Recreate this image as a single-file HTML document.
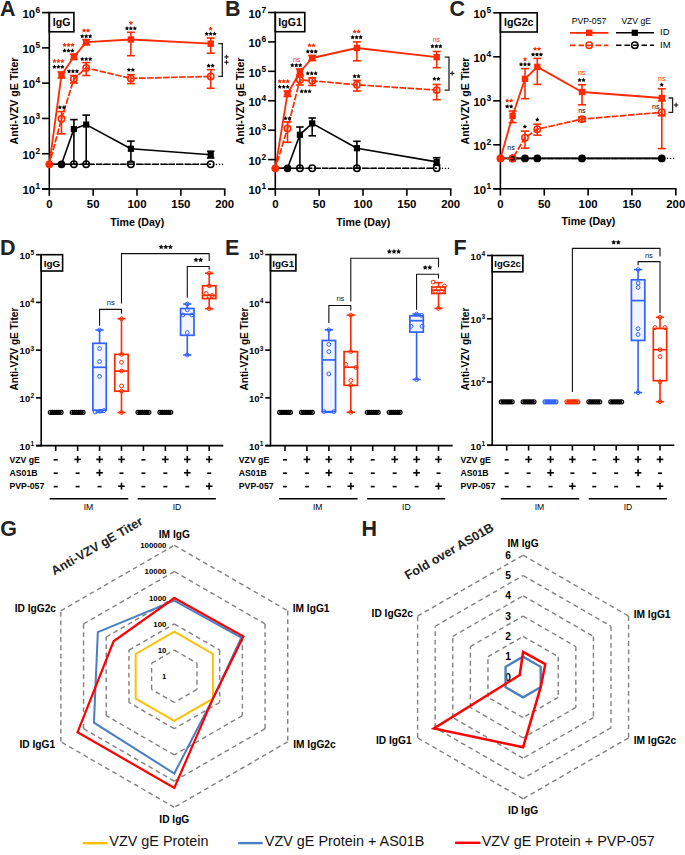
<!DOCTYPE html>
<html><head><meta charset="utf-8"><style>
html,body{margin:0;padding:0;background:#fff;width:685px;height:855px;overflow:hidden}
svg{display:block}
text{font-family:"Liberation Sans",sans-serif}
</style></head><body>
<svg width="685" height="855" viewBox="0 0 685 855">
<rect width="685" height="855" fill="#fff"/>
<text x="0" y="15.9" font-size="21.5" font-weight="bold" text-anchor="start" fill="#222" >A</text>
<line x1="49.3" y1="11.85" x2="49.3" y2="189.75" stroke="#000" stroke-width="1.6" />
<line x1="42.1" y1="12.6" x2="49.3" y2="12.6" stroke="#000" stroke-width="1.6" />
<text x="35.1" y="17.9" font-size="11.4" font-weight="bold" text-anchor="end" fill="#000" >10</text>
<text x="35.4" y="12.8" font-size="8.4" font-weight="bold" text-anchor="start" fill="#000" >6</text>
<line x1="42.1" y1="47.88" x2="49.3" y2="47.88" stroke="#000" stroke-width="1.6" />
<text x="35.1" y="53.18" font-size="11.4" font-weight="bold" text-anchor="end" fill="#000" >10</text>
<text x="35.4" y="48.08" font-size="8.4" font-weight="bold" text-anchor="start" fill="#000" >5</text>
<line x1="42.1" y1="83.16" x2="49.3" y2="83.16" stroke="#000" stroke-width="1.6" />
<text x="35.1" y="88.46" font-size="11.4" font-weight="bold" text-anchor="end" fill="#000" >10</text>
<text x="35.4" y="83.36" font-size="8.4" font-weight="bold" text-anchor="start" fill="#000" >4</text>
<line x1="42.1" y1="118.44" x2="49.3" y2="118.44" stroke="#000" stroke-width="1.6" />
<text x="35.1" y="123.74" font-size="11.4" font-weight="bold" text-anchor="end" fill="#000" >10</text>
<text x="35.4" y="118.64" font-size="8.4" font-weight="bold" text-anchor="start" fill="#000" >3</text>
<line x1="42.1" y1="153.72" x2="49.3" y2="153.72" stroke="#000" stroke-width="1.6" />
<text x="35.1" y="159.02" font-size="11.4" font-weight="bold" text-anchor="end" fill="#000" >10</text>
<text x="35.4" y="153.92" font-size="8.4" font-weight="bold" text-anchor="start" fill="#000" >2</text>
<line x1="42.1" y1="189" x2="49.3" y2="189" stroke="#000" stroke-width="1.6" />
<text x="35.1" y="194.3" font-size="11.4" font-weight="bold" text-anchor="end" fill="#000" >10</text>
<text x="35.4" y="189.2" font-size="8.4" font-weight="bold" text-anchor="start" fill="#000" >1</text>
<line x1="42.1" y1="189" x2="225.5" y2="189" stroke="#000" stroke-width="1.6" />
<line x1="49.3" y1="189" x2="49.3" y2="195.8" stroke="#000" stroke-width="1.6" />
<text x="49.3" y="208.2" font-size="11.4" font-weight="bold" text-anchor="middle" fill="#000" >0</text>
<line x1="93.15" y1="189" x2="93.15" y2="195.8" stroke="#000" stroke-width="1.6" />
<text x="93.15" y="208.2" font-size="11.4" font-weight="bold" text-anchor="middle" fill="#000" >50</text>
<line x1="137" y1="189" x2="137" y2="195.8" stroke="#000" stroke-width="1.6" />
<text x="137" y="208.2" font-size="11.4" font-weight="bold" text-anchor="middle" fill="#000" >100</text>
<line x1="180.85" y1="189" x2="180.85" y2="195.8" stroke="#000" stroke-width="1.6" />
<text x="180.85" y="208.2" font-size="11.4" font-weight="bold" text-anchor="middle" fill="#000" >150</text>
<line x1="224.7" y1="189" x2="224.7" y2="195.8" stroke="#000" stroke-width="1.6" />
<text x="224.7" y="208.2" font-size="11.4" font-weight="bold" text-anchor="middle" fill="#000" >200</text>
<text x="137.3" y="225.5" font-size="10.6" font-weight="bold" text-anchor="middle" fill="#000" >Time (Day)</text>
<rect x="49.3" y="12.6" width="24.6" height="19.2" stroke="#000" stroke-width="1.6" fill="none"/>
<text x="61.6" y="25.8" font-size="10.6" font-weight="bold" text-anchor="middle" fill="#000" >IgG</text>
<text transform="translate(17.6,101) rotate(-90)" font-size="10.6" font-weight="bold" text-anchor="middle" fill="#000">Anti-VZV gE Titer</text>
<polyline points="49.3,164.3 61.5,164.3 73.9,164.3 86.2,164.3 130.9,164.3 210.7,164.3" stroke="#000" stroke-width="1.5" fill="none" stroke-dasharray="6.5,1.55" stroke-dashoffset="1.6" stroke-linejoin="round"/>
<line x1="51.05" y1="164.3" x2="223.8" y2="164.3" stroke="#000" stroke-width="1.3" stroke-dasharray="1.3,1.75"/>
<polyline points="49.3,164.3 61.5,164.3 73.9,129.1 86.2,124.6 130.9,148.8 210.7,154.8" stroke="#000" stroke-width="1.6" fill="none"  stroke-linejoin="round"/>
<line x1="73.9" y1="119.6" x2="73.9" y2="164.3" stroke="#000" stroke-width="1.6" />
<line x1="70.15" y1="119.6" x2="77.65" y2="119.6" stroke="#000" stroke-width="1.6" />
<line x1="70.15" y1="164.3" x2="77.65" y2="164.3" stroke="#000" stroke-width="1.6" />
<line x1="86.2" y1="115.1" x2="86.2" y2="164.3" stroke="#000" stroke-width="1.6" />
<line x1="82.45" y1="115.1" x2="89.95" y2="115.1" stroke="#000" stroke-width="1.6" />
<line x1="82.45" y1="164.3" x2="89.95" y2="164.3" stroke="#000" stroke-width="1.6" />
<line x1="130.9" y1="141.1" x2="130.9" y2="162" stroke="#000" stroke-width="1.6" />
<line x1="127.15" y1="141.1" x2="134.65" y2="141.1" stroke="#000" stroke-width="1.6" />
<line x1="127.15" y1="162" x2="134.65" y2="162" stroke="#000" stroke-width="1.6" />
<line x1="210.7" y1="151.2" x2="210.7" y2="158" stroke="#000" stroke-width="1.6" />
<line x1="206.95" y1="151.2" x2="214.45" y2="151.2" stroke="#000" stroke-width="1.6" />
<line x1="206.95" y1="158" x2="214.45" y2="158" stroke="#000" stroke-width="1.6" />
<circle cx="73.9" cy="164.3" r="3.2" stroke="#000" stroke-width="1.5" fill="none"/>
<circle cx="86.2" cy="164.3" r="3.2" stroke="#000" stroke-width="1.5" fill="none"/>
<circle cx="130.9" cy="164.3" r="3.2" stroke="#000" stroke-width="1.5" fill="none"/>
<circle cx="210.7" cy="164.3" r="3.2" stroke="#000" stroke-width="1.5" fill="none"/>
<circle cx="61.5" cy="164.3" r="3.9" stroke="#000" stroke-width="0" fill="#000"/>
<rect x="70.8" y="126" width="6.2" height="6.2" fill="#000"/>
<rect x="83.1" y="121.5" width="6.2" height="6.2" fill="#000"/>
<rect x="127.8" y="145.7" width="6.2" height="6.2" fill="#000"/>
<rect x="207.6" y="151.7" width="6.2" height="6.2" fill="#000"/>
<polyline points="49.3,164.3 61.5,118.8 73.9,79 86.2,67.9 130.9,78.4 210.7,76.4" stroke="#ff2a00" stroke-width="1.7" fill="none" stroke-dasharray="6.5,1.55" stroke-dashoffset="1.6" stroke-linejoin="round"/>
<line x1="61.5" y1="111.6" x2="61.5" y2="133.8" stroke="#ff2a00" stroke-width="1.6" />
<line x1="57.5" y1="111.6" x2="65.5" y2="111.6" stroke="#ff2a00" stroke-width="1.6" />
<line x1="57.5" y1="133.8" x2="65.5" y2="133.8" stroke="#ff2a00" stroke-width="1.6" />
<line x1="73.9" y1="75.5" x2="73.9" y2="83" stroke="#ff2a00" stroke-width="1.6" />
<line x1="69.9" y1="75.5" x2="77.9" y2="75.5" stroke="#ff2a00" stroke-width="1.6" />
<line x1="69.9" y1="83" x2="77.9" y2="83" stroke="#ff2a00" stroke-width="1.6" />
<line x1="86.2" y1="62.6" x2="86.2" y2="75.5" stroke="#ff2a00" stroke-width="1.6" />
<line x1="82.2" y1="62.6" x2="90.2" y2="62.6" stroke="#ff2a00" stroke-width="1.6" />
<line x1="82.2" y1="75.5" x2="90.2" y2="75.5" stroke="#ff2a00" stroke-width="1.6" />
<line x1="130.9" y1="74.6" x2="130.9" y2="83.6" stroke="#ff2a00" stroke-width="1.6" />
<line x1="126.9" y1="74.6" x2="134.9" y2="74.6" stroke="#ff2a00" stroke-width="1.6" />
<line x1="126.9" y1="83.6" x2="134.9" y2="83.6" stroke="#ff2a00" stroke-width="1.6" />
<line x1="210.7" y1="69.7" x2="210.7" y2="88.3" stroke="#ff2a00" stroke-width="1.6" />
<line x1="206.7" y1="69.7" x2="214.7" y2="69.7" stroke="#ff2a00" stroke-width="1.6" />
<line x1="206.7" y1="88.3" x2="214.7" y2="88.3" stroke="#ff2a00" stroke-width="1.6" />
<circle cx="61.5" cy="118.8" r="3.2" stroke="#ff2a00" stroke-width="1.5" fill="none"/>
<circle cx="73.9" cy="79" r="3.2" stroke="#ff2a00" stroke-width="1.5" fill="none"/>
<circle cx="86.2" cy="67.9" r="3.2" stroke="#ff2a00" stroke-width="1.5" fill="none"/>
<circle cx="130.9" cy="78.4" r="3.2" stroke="#ff2a00" stroke-width="1.5" fill="none"/>
<circle cx="210.7" cy="76.4" r="3.2" stroke="#ff2a00" stroke-width="1.5" fill="none"/>
<polyline points="49.3,164.3 61.5,74.9 73.9,56.8 86.2,42.2 130.9,39.5 210.7,43.7" stroke="#ff2a00" stroke-width="1.8" fill="none"  stroke-linejoin="round"/>
<line x1="61.5" y1="72" x2="61.5" y2="78" stroke="#ff2a00" stroke-width="1.6" />
<line x1="57.5" y1="72" x2="65.5" y2="72" stroke="#ff2a00" stroke-width="1.6" />
<line x1="57.5" y1="78" x2="65.5" y2="78" stroke="#ff2a00" stroke-width="1.6" />
<line x1="73.9" y1="54.2" x2="73.9" y2="59.5" stroke="#ff2a00" stroke-width="1.6" />
<line x1="69.9" y1="54.2" x2="77.9" y2="54.2" stroke="#ff2a00" stroke-width="1.6" />
<line x1="69.9" y1="59.5" x2="77.9" y2="59.5" stroke="#ff2a00" stroke-width="1.6" />
<line x1="86.2" y1="39.6" x2="86.2" y2="44.8" stroke="#ff2a00" stroke-width="1.6" />
<line x1="82.2" y1="39.6" x2="90.2" y2="39.6" stroke="#ff2a00" stroke-width="1.6" />
<line x1="82.2" y1="44.8" x2="90.2" y2="44.8" stroke="#ff2a00" stroke-width="1.6" />
<line x1="130.9" y1="32.3" x2="130.9" y2="55.7" stroke="#ff2a00" stroke-width="1.6" />
<line x1="126.9" y1="32.3" x2="134.9" y2="32.3" stroke="#ff2a00" stroke-width="1.6" />
<line x1="126.9" y1="55.7" x2="134.9" y2="55.7" stroke="#ff2a00" stroke-width="1.6" />
<line x1="210.7" y1="38" x2="210.7" y2="53.2" stroke="#ff2a00" stroke-width="1.6" />
<line x1="206.7" y1="38" x2="214.7" y2="38" stroke="#ff2a00" stroke-width="1.6" />
<line x1="206.7" y1="53.2" x2="214.7" y2="53.2" stroke="#ff2a00" stroke-width="1.6" />
<rect x="58.3" y="71.7" width="6.4" height="6.4" fill="#ff2a00"/>
<rect x="70.7" y="53.6" width="6.4" height="6.4" fill="#ff2a00"/>
<rect x="83" y="39" width="6.4" height="6.4" fill="#ff2a00"/>
<rect x="127.7" y="36.3" width="6.4" height="6.4" fill="#ff2a00"/>
<rect x="207.5" y="40.5" width="6.4" height="6.4" fill="#ff2a00"/>
<circle cx="49.3" cy="164.3" r="3.9" stroke="#ff2a00" stroke-width="0" fill="#ff2a00"/>
<polygon points="54.45,58.78 55.14,60.18 56.68,60.41 55.57,61.5 55.83,63.04 54.45,62.31 53.07,63.04 53.33,61.5 52.22,60.41 53.76,60.18" stroke="none" stroke-width="0" fill="#ff2a00" />
<polygon points="58.4,58.78 59.09,60.18 60.63,60.41 59.52,61.5 59.78,63.04 58.4,62.31 57.02,63.04 57.28,61.5 56.17,60.41 57.71,60.18" stroke="none" stroke-width="0" fill="#ff2a00" />
<polygon points="62.35,58.78 63.04,60.18 64.58,60.41 63.47,61.5 63.73,63.04 62.35,62.31 60.97,63.04 61.23,61.5 60.12,60.41 61.66,60.18" stroke="none" stroke-width="0" fill="#ff2a00" />
<polygon points="54.45,64.59 55.14,65.98 56.68,66.21 55.57,67.3 55.83,68.84 54.45,68.11 53.07,68.84 53.33,67.3 52.22,66.21 53.76,65.98" stroke="none" stroke-width="0" fill="#000" />
<polygon points="58.4,64.59 59.09,65.98 60.63,66.21 59.52,67.3 59.78,68.84 58.4,68.11 57.02,68.84 57.28,67.3 56.17,66.21 57.71,65.98" stroke="none" stroke-width="0" fill="#000" />
<polygon points="62.35,64.59 63.04,65.98 64.58,66.21 63.47,67.3 63.73,68.84 62.35,68.11 60.97,68.84 61.23,67.3 60.12,66.21 61.66,65.98" stroke="none" stroke-width="0" fill="#000" />
<polygon points="64.55,42.68 65.24,44.08 66.78,44.31 65.67,45.4 65.93,46.94 64.55,46.21 63.17,46.94 63.43,45.4 62.32,44.31 63.86,44.08" stroke="none" stroke-width="0" fill="#ff2a00" />
<polygon points="68.5,42.68 69.19,44.08 70.73,44.31 69.62,45.4 69.88,46.94 68.5,46.21 67.12,46.94 67.38,45.4 66.27,44.31 67.81,44.08" stroke="none" stroke-width="0" fill="#ff2a00" />
<polygon points="72.45,42.68 73.14,44.08 74.68,44.31 73.57,45.4 73.83,46.94 72.45,46.21 71.07,46.94 71.33,45.4 70.22,44.31 71.76,44.08" stroke="none" stroke-width="0" fill="#ff2a00" />
<polygon points="64.55,48.28 65.24,49.68 66.78,49.91 65.67,51 65.93,52.54 64.55,51.81 63.17,52.54 63.43,51 62.32,49.91 63.86,49.68" stroke="none" stroke-width="0" fill="#000" />
<polygon points="68.5,48.28 69.19,49.68 70.73,49.91 69.62,51 69.88,52.54 68.5,51.81 67.12,52.54 67.38,51 66.27,49.91 67.81,49.68" stroke="none" stroke-width="0" fill="#000" />
<polygon points="72.45,48.28 73.14,49.68 74.68,49.91 73.57,51 73.83,52.54 72.45,51.81 71.07,52.54 71.33,51 70.22,49.91 71.76,49.68" stroke="none" stroke-width="0" fill="#000" />
<polygon points="84.03,28.18 84.72,29.58 86.26,29.81 85.14,30.9 85.41,32.44 84.03,31.71 82.64,32.44 82.91,30.9 81.79,29.81 83.33,29.58" stroke="none" stroke-width="0" fill="#ff2a00" />
<polygon points="87.98,28.18 88.67,29.58 90.21,29.81 89.09,30.9 89.36,32.44 87.98,31.71 86.59,32.44 86.86,30.9 85.74,29.81 87.28,29.58" stroke="none" stroke-width="0" fill="#ff2a00" />
<polygon points="82.25,33.88 82.94,35.28 84.48,35.51 83.37,36.6 83.63,38.14 82.25,37.41 80.87,38.14 81.13,36.6 80.02,35.51 81.56,35.28" stroke="none" stroke-width="0" fill="#000" />
<polygon points="86.2,33.88 86.89,35.28 88.43,35.51 87.32,36.6 87.58,38.14 86.2,37.41 84.82,38.14 85.08,36.6 83.97,35.51 85.51,35.28" stroke="none" stroke-width="0" fill="#000" />
<polygon points="90.15,33.88 90.84,35.28 92.38,35.51 91.27,36.6 91.53,38.14 90.15,37.41 88.77,38.14 89.03,36.6 87.92,35.51 89.46,35.28" stroke="none" stroke-width="0" fill="#000" />
<polygon points="82.25,56.78 82.94,58.18 84.48,58.41 83.37,59.5 83.63,61.04 82.25,60.31 80.87,61.04 81.13,59.5 80.02,58.41 81.56,58.18" stroke="none" stroke-width="0" fill="#000" />
<polygon points="86.2,56.78 86.89,58.18 88.43,58.41 87.32,59.5 87.58,61.04 86.2,60.31 84.82,61.04 85.08,59.5 83.97,58.41 85.51,58.18" stroke="none" stroke-width="0" fill="#000" />
<polygon points="90.15,56.78 90.84,58.18 92.38,58.41 91.27,59.5 91.53,61.04 90.15,60.31 88.77,61.04 89.03,59.5 87.92,58.41 89.46,58.18" stroke="none" stroke-width="0" fill="#000" />
<polygon points="69.05,68.89 69.74,70.28 71.28,70.51 70.17,71.6 70.43,73.14 69.05,72.41 67.67,73.14 67.93,71.6 66.82,70.51 68.36,70.28" stroke="none" stroke-width="0" fill="#000" />
<polygon points="73,68.89 73.69,70.28 75.23,70.51 74.12,71.6 74.38,73.14 73,72.41 71.62,73.14 71.88,71.6 70.77,70.51 72.31,70.28" stroke="none" stroke-width="0" fill="#000" />
<polygon points="76.95,68.89 77.64,70.28 79.18,70.51 78.07,71.6 78.33,73.14 76.95,72.41 75.57,73.14 75.83,71.6 74.72,70.51 76.26,70.28" stroke="none" stroke-width="0" fill="#000" />
<polygon points="59.92,105.09 60.62,106.48 62.16,106.71 61.04,107.8 61.31,109.34 59.92,108.61 58.54,109.34 58.81,107.8 57.69,106.71 59.23,106.48" stroke="none" stroke-width="0" fill="#000" />
<polygon points="63.88,105.09 64.57,106.48 66.11,106.71 64.99,107.8 65.26,109.34 63.88,108.61 62.49,109.34 62.76,107.8 61.64,106.71 63.18,106.48" stroke="none" stroke-width="0" fill="#000" />
<polygon points="130.9,20.68 131.59,22.08 133.13,22.31 132.02,23.4 132.28,24.94 130.9,24.21 129.52,24.94 129.78,23.4 128.67,22.31 130.21,22.08" stroke="none" stroke-width="0" fill="#ff2a00" />
<polygon points="126.95,26.08 127.64,27.48 129.18,27.71 128.07,28.8 128.33,30.34 126.95,29.61 125.57,30.34 125.83,28.8 124.72,27.71 126.26,27.48" stroke="none" stroke-width="0" fill="#000" />
<polygon points="130.9,26.08 131.59,27.48 133.13,27.71 132.02,28.8 132.28,30.34 130.9,29.61 129.52,30.34 129.78,28.8 128.67,27.71 130.21,27.48" stroke="none" stroke-width="0" fill="#000" />
<polygon points="134.85,26.08 135.54,27.48 137.08,27.71 135.97,28.8 136.23,30.34 134.85,29.61 133.47,30.34 133.73,28.8 132.62,27.71 134.16,27.48" stroke="none" stroke-width="0" fill="#000" />
<polygon points="210.6,26.38 211.29,27.78 212.83,28.01 211.72,29.1 211.98,30.64 210.6,29.91 209.22,30.64 209.48,29.1 208.37,28.01 209.91,27.78" stroke="none" stroke-width="0" fill="#ff2a00" />
<polygon points="206.65,31.59 207.34,32.98 208.88,33.21 207.77,34.3 208.03,35.84 206.65,35.11 205.27,35.84 205.53,34.3 204.42,33.21 205.96,32.98" stroke="none" stroke-width="0" fill="#000" />
<polygon points="210.6,31.59 211.29,32.98 212.83,33.21 211.72,34.3 211.98,35.84 210.6,35.11 209.22,35.84 209.48,34.3 208.37,33.21 209.91,32.98" stroke="none" stroke-width="0" fill="#000" />
<polygon points="214.55,31.59 215.24,32.98 216.78,33.21 215.67,34.3 215.93,35.84 214.55,35.11 213.17,35.84 213.43,34.3 212.32,33.21 213.86,32.98" stroke="none" stroke-width="0" fill="#000" />
<polygon points="128.93,67.59 129.62,68.98 131.16,69.21 130.04,70.3 130.31,71.84 128.93,71.11 127.54,71.84 127.81,70.3 126.69,69.21 128.23,68.98" stroke="none" stroke-width="0" fill="#000" />
<polygon points="132.88,67.59 133.57,68.98 135.11,69.21 133.99,70.3 134.26,71.84 132.88,71.11 131.49,71.84 131.76,70.3 130.64,69.21 132.18,68.98" stroke="none" stroke-width="0" fill="#000" />
<polygon points="208.62,63.38 209.32,64.78 210.86,65.01 209.74,66.1 210.01,67.64 208.62,66.91 207.24,67.64 207.51,66.1 206.39,65.01 207.93,64.78" stroke="none" stroke-width="0" fill="#000" />
<polygon points="212.57,63.38 213.27,64.78 214.81,65.01 213.69,66.1 213.96,67.64 212.57,66.91 211.19,67.64 211.46,66.1 210.34,65.01 211.88,64.78" stroke="none" stroke-width="0" fill="#000" />
<polyline points="218.2,43.7 222.3,43.7 222.3,76.4 218.2,76.4" stroke="#222" stroke-width="1.3" fill="none" />
<line x1="224.3" y1="56.9" x2="228.7" y2="56.9" stroke="#222" stroke-width="1.2" />
<line x1="226.5" y1="54.7" x2="226.5" y2="59.1" stroke="#222" stroke-width="1.2" />
<line x1="224.3" y1="62.3" x2="228.7" y2="62.3" stroke="#222" stroke-width="1.2" />
<line x1="226.5" y1="60.1" x2="226.5" y2="64.5" stroke="#222" stroke-width="1.2" />
<text x="224.9" y="15.9" font-size="21.5" font-weight="bold" text-anchor="start" fill="#222" >B</text>
<line x1="275.3" y1="11.75" x2="275.3" y2="189.75" stroke="#000" stroke-width="1.6" />
<line x1="268.1" y1="12.5" x2="275.3" y2="12.5" stroke="#000" stroke-width="1.6" />
<text x="261.1" y="17.8" font-size="11.4" font-weight="bold" text-anchor="end" fill="#000" >10</text>
<text x="261.4" y="12.7" font-size="8.4" font-weight="bold" text-anchor="start" fill="#000" >7</text>
<line x1="268.1" y1="41.92" x2="275.3" y2="41.92" stroke="#000" stroke-width="1.6" />
<text x="261.1" y="47.22" font-size="11.4" font-weight="bold" text-anchor="end" fill="#000" >10</text>
<text x="261.4" y="42.12" font-size="8.4" font-weight="bold" text-anchor="start" fill="#000" >6</text>
<line x1="268.1" y1="71.33" x2="275.3" y2="71.33" stroke="#000" stroke-width="1.6" />
<text x="261.1" y="76.63" font-size="11.4" font-weight="bold" text-anchor="end" fill="#000" >10</text>
<text x="261.4" y="71.53" font-size="8.4" font-weight="bold" text-anchor="start" fill="#000" >5</text>
<line x1="268.1" y1="100.75" x2="275.3" y2="100.75" stroke="#000" stroke-width="1.6" />
<text x="261.1" y="106.05" font-size="11.4" font-weight="bold" text-anchor="end" fill="#000" >10</text>
<text x="261.4" y="100.95" font-size="8.4" font-weight="bold" text-anchor="start" fill="#000" >4</text>
<line x1="268.1" y1="130.17" x2="275.3" y2="130.17" stroke="#000" stroke-width="1.6" />
<text x="261.1" y="135.47" font-size="11.4" font-weight="bold" text-anchor="end" fill="#000" >10</text>
<text x="261.4" y="130.37" font-size="8.4" font-weight="bold" text-anchor="start" fill="#000" >3</text>
<line x1="268.1" y1="159.58" x2="275.3" y2="159.58" stroke="#000" stroke-width="1.6" />
<text x="261.1" y="164.88" font-size="11.4" font-weight="bold" text-anchor="end" fill="#000" >10</text>
<text x="261.4" y="159.78" font-size="8.4" font-weight="bold" text-anchor="start" fill="#000" >2</text>
<line x1="268.1" y1="189" x2="275.3" y2="189" stroke="#000" stroke-width="1.6" />
<text x="261.1" y="194.3" font-size="11.4" font-weight="bold" text-anchor="end" fill="#000" >10</text>
<text x="261.4" y="189.2" font-size="8.4" font-weight="bold" text-anchor="start" fill="#000" >1</text>
<line x1="268.1" y1="189" x2="451.5" y2="189" stroke="#000" stroke-width="1.6" />
<line x1="275.3" y1="189" x2="275.3" y2="195.8" stroke="#000" stroke-width="1.6" />
<text x="275.3" y="208.2" font-size="11.4" font-weight="bold" text-anchor="middle" fill="#000" >0</text>
<line x1="319.15" y1="189" x2="319.15" y2="195.8" stroke="#000" stroke-width="1.6" />
<text x="319.15" y="208.2" font-size="11.4" font-weight="bold" text-anchor="middle" fill="#000" >50</text>
<line x1="363" y1="189" x2="363" y2="195.8" stroke="#000" stroke-width="1.6" />
<text x="363" y="208.2" font-size="11.4" font-weight="bold" text-anchor="middle" fill="#000" >100</text>
<line x1="406.85" y1="189" x2="406.85" y2="195.8" stroke="#000" stroke-width="1.6" />
<text x="406.85" y="208.2" font-size="11.4" font-weight="bold" text-anchor="middle" fill="#000" >150</text>
<line x1="450.7" y1="189" x2="450.7" y2="195.8" stroke="#000" stroke-width="1.6" />
<text x="450.7" y="208.2" font-size="11.4" font-weight="bold" text-anchor="middle" fill="#000" >200</text>
<text x="363.3" y="225.5" font-size="10.6" font-weight="bold" text-anchor="middle" fill="#000" >Time (Day)</text>
<rect x="275.3" y="12.5" width="29.5" height="19.2" stroke="#000" stroke-width="1.6" fill="none"/>
<text x="290.05" y="25.7" font-size="10.6" font-weight="bold" text-anchor="middle" fill="#000" >IgG1</text>
<text transform="translate(243.6,101) rotate(-90)" font-size="10.6" font-weight="bold" text-anchor="middle" fill="#000">Anti-VZV gE Titer</text>
<polyline points="275.3,168.3 287.5,168.3 299.9,168.3 312.2,168.3 356.9,168.3 436.7,168.3" stroke="#000" stroke-width="1.5" fill="none" stroke-dasharray="6.5,1.55" stroke-dashoffset="1.6" stroke-linejoin="round"/>
<line x1="277.05" y1="168.3" x2="449.8" y2="168.3" stroke="#000" stroke-width="1.3" stroke-dasharray="1.3,1.75"/>
<polyline points="275.3,168.3 287.5,168.3 299.9,134.7 312.2,123.4 356.9,148.2 436.7,161.9" stroke="#000" stroke-width="1.6" fill="none"  stroke-linejoin="round"/>
<line x1="299.9" y1="127" x2="299.9" y2="168.3" stroke="#000" stroke-width="1.6" />
<line x1="296.15" y1="127" x2="303.65" y2="127" stroke="#000" stroke-width="1.6" />
<line x1="296.15" y1="168.3" x2="303.65" y2="168.3" stroke="#000" stroke-width="1.6" />
<line x1="312.2" y1="118" x2="312.2" y2="135.8" stroke="#000" stroke-width="1.6" />
<line x1="308.45" y1="118" x2="315.95" y2="118" stroke="#000" stroke-width="1.6" />
<line x1="308.45" y1="135.8" x2="315.95" y2="135.8" stroke="#000" stroke-width="1.6" />
<line x1="356.9" y1="141.3" x2="356.9" y2="168.3" stroke="#000" stroke-width="1.6" />
<line x1="353.15" y1="141.3" x2="360.65" y2="141.3" stroke="#000" stroke-width="1.6" />
<line x1="353.15" y1="168.3" x2="360.65" y2="168.3" stroke="#000" stroke-width="1.6" />
<line x1="436.7" y1="157.7" x2="436.7" y2="165" stroke="#000" stroke-width="1.6" />
<line x1="432.95" y1="157.7" x2="440.45" y2="157.7" stroke="#000" stroke-width="1.6" />
<line x1="432.95" y1="165" x2="440.45" y2="165" stroke="#000" stroke-width="1.6" />
<circle cx="299.9" cy="168.3" r="3.2" stroke="#000" stroke-width="1.5" fill="none"/>
<circle cx="312.2" cy="168.3" r="3.2" stroke="#000" stroke-width="1.5" fill="none"/>
<circle cx="356.9" cy="168.3" r="3.2" stroke="#000" stroke-width="1.5" fill="none"/>
<circle cx="436.7" cy="168.3" r="3.2" stroke="#000" stroke-width="1.5" fill="none"/>
<circle cx="287.5" cy="168.3" r="3.9" stroke="#000" stroke-width="0" fill="#000"/>
<rect x="296.8" y="131.6" width="6.2" height="6.2" fill="#000"/>
<rect x="309.1" y="120.3" width="6.2" height="6.2" fill="#000"/>
<rect x="353.8" y="145.1" width="6.2" height="6.2" fill="#000"/>
<rect x="433.6" y="158.8" width="6.2" height="6.2" fill="#000"/>
<polyline points="275.3,168.3 287.5,128.5 299.9,80 312.2,80.8 356.9,84.8 436.7,90.1" stroke="#ff2a00" stroke-width="1.7" fill="none" stroke-dasharray="6.5,1.55" stroke-dashoffset="1.6" stroke-linejoin="round"/>
<line x1="287.5" y1="121.9" x2="287.5" y2="142.3" stroke="#ff2a00" stroke-width="1.6" />
<line x1="283.5" y1="121.9" x2="291.5" y2="121.9" stroke="#ff2a00" stroke-width="1.6" />
<line x1="283.5" y1="142.3" x2="291.5" y2="142.3" stroke="#ff2a00" stroke-width="1.6" />
<line x1="299.9" y1="76" x2="299.9" y2="85" stroke="#ff2a00" stroke-width="1.6" />
<line x1="295.9" y1="76" x2="303.9" y2="76" stroke="#ff2a00" stroke-width="1.6" />
<line x1="295.9" y1="85" x2="303.9" y2="85" stroke="#ff2a00" stroke-width="1.6" />
<line x1="312.2" y1="77.9" x2="312.2" y2="85.5" stroke="#ff2a00" stroke-width="1.6" />
<line x1="308.2" y1="77.9" x2="316.2" y2="77.9" stroke="#ff2a00" stroke-width="1.6" />
<line x1="308.2" y1="85.5" x2="316.2" y2="85.5" stroke="#ff2a00" stroke-width="1.6" />
<line x1="356.9" y1="80.4" x2="356.9" y2="91" stroke="#ff2a00" stroke-width="1.6" />
<line x1="352.9" y1="80.4" x2="360.9" y2="80.4" stroke="#ff2a00" stroke-width="1.6" />
<line x1="352.9" y1="91" x2="360.9" y2="91" stroke="#ff2a00" stroke-width="1.6" />
<line x1="436.7" y1="84.5" x2="436.7" y2="99.7" stroke="#ff2a00" stroke-width="1.6" />
<line x1="432.7" y1="84.5" x2="440.7" y2="84.5" stroke="#ff2a00" stroke-width="1.6" />
<line x1="432.7" y1="99.7" x2="440.7" y2="99.7" stroke="#ff2a00" stroke-width="1.6" />
<circle cx="287.5" cy="128.5" r="3.2" stroke="#ff2a00" stroke-width="1.5" fill="none"/>
<circle cx="299.9" cy="80" r="3.2" stroke="#ff2a00" stroke-width="1.5" fill="none"/>
<circle cx="312.2" cy="80.8" r="3.2" stroke="#ff2a00" stroke-width="1.5" fill="none"/>
<circle cx="356.9" cy="84.8" r="3.2" stroke="#ff2a00" stroke-width="1.5" fill="none"/>
<circle cx="436.7" cy="90.1" r="3.2" stroke="#ff2a00" stroke-width="1.5" fill="none"/>
<polyline points="275.3,168.3 287.5,93.7 299.9,72 312.2,58 356.9,48 436.7,57.1" stroke="#ff2a00" stroke-width="1.8" fill="none"  stroke-linejoin="round"/>
<line x1="287.5" y1="91" x2="287.5" y2="96.5" stroke="#ff2a00" stroke-width="1.6" />
<line x1="283.5" y1="91" x2="291.5" y2="91" stroke="#ff2a00" stroke-width="1.6" />
<line x1="283.5" y1="96.5" x2="291.5" y2="96.5" stroke="#ff2a00" stroke-width="1.6" />
<line x1="299.9" y1="69" x2="299.9" y2="75" stroke="#ff2a00" stroke-width="1.6" />
<line x1="295.9" y1="69" x2="303.9" y2="69" stroke="#ff2a00" stroke-width="1.6" />
<line x1="295.9" y1="75" x2="303.9" y2="75" stroke="#ff2a00" stroke-width="1.6" />
<line x1="312.2" y1="55.5" x2="312.2" y2="60.5" stroke="#ff2a00" stroke-width="1.6" />
<line x1="308.2" y1="55.5" x2="316.2" y2="55.5" stroke="#ff2a00" stroke-width="1.6" />
<line x1="308.2" y1="60.5" x2="316.2" y2="60.5" stroke="#ff2a00" stroke-width="1.6" />
<line x1="356.9" y1="41.9" x2="356.9" y2="60.8" stroke="#ff2a00" stroke-width="1.6" />
<line x1="352.9" y1="41.9" x2="360.9" y2="41.9" stroke="#ff2a00" stroke-width="1.6" />
<line x1="352.9" y1="60.8" x2="360.9" y2="60.8" stroke="#ff2a00" stroke-width="1.6" />
<line x1="436.7" y1="51.5" x2="436.7" y2="67.7" stroke="#ff2a00" stroke-width="1.6" />
<line x1="432.7" y1="51.5" x2="440.7" y2="51.5" stroke="#ff2a00" stroke-width="1.6" />
<line x1="432.7" y1="67.7" x2="440.7" y2="67.7" stroke="#ff2a00" stroke-width="1.6" />
<rect x="284.3" y="90.5" width="6.4" height="6.4" fill="#ff2a00"/>
<rect x="296.7" y="68.8" width="6.4" height="6.4" fill="#ff2a00"/>
<rect x="309" y="54.8" width="6.4" height="6.4" fill="#ff2a00"/>
<rect x="353.7" y="44.8" width="6.4" height="6.4" fill="#ff2a00"/>
<rect x="433.5" y="53.9" width="6.4" height="6.4" fill="#ff2a00"/>
<circle cx="275.3" cy="168.3" r="3.9" stroke="#ff2a00" stroke-width="0" fill="#ff2a00"/>
<polygon points="279.75,78.89 280.44,80.28 281.98,80.51 280.87,81.6 281.13,83.14 279.75,82.41 278.37,83.14 278.63,81.6 277.52,80.51 279.06,80.28" stroke="none" stroke-width="0" fill="#ff2a00" />
<polygon points="283.7,78.89 284.39,80.28 285.93,80.51 284.82,81.6 285.08,83.14 283.7,82.41 282.32,83.14 282.58,81.6 281.47,80.51 283.01,80.28" stroke="none" stroke-width="0" fill="#ff2a00" />
<polygon points="287.65,78.89 288.34,80.28 289.88,80.51 288.77,81.6 289.03,83.14 287.65,82.41 286.27,83.14 286.53,81.6 285.42,80.51 286.96,80.28" stroke="none" stroke-width="0" fill="#ff2a00" />
<polygon points="279.75,84.59 280.44,85.98 281.98,86.21 280.87,87.3 281.13,88.84 279.75,88.11 278.37,88.84 278.63,87.3 277.52,86.21 279.06,85.98" stroke="none" stroke-width="0" fill="#000" />
<polygon points="283.7,84.59 284.39,85.98 285.93,86.21 284.82,87.3 285.08,88.84 283.7,88.11 282.32,88.84 282.58,87.3 281.47,86.21 283.01,85.98" stroke="none" stroke-width="0" fill="#000" />
<polygon points="287.65,84.59 288.34,85.98 289.88,86.21 288.77,87.3 289.03,88.84 287.65,88.11 286.27,88.84 286.53,87.3 285.42,86.21 286.96,85.98" stroke="none" stroke-width="0" fill="#000" />
<text x="296.6" y="61.69" font-size="7.0" font-weight="normal" text-anchor="middle" fill="#ff2a00" >ns</text>
<polygon points="292.35,62.88 293.04,64.28 294.58,64.51 293.47,65.6 293.73,67.14 292.35,66.41 290.97,67.14 291.23,65.6 290.12,64.51 291.66,64.28" stroke="none" stroke-width="0" fill="#000" />
<polygon points="296.3,62.88 296.99,64.28 298.53,64.51 297.42,65.6 297.68,67.14 296.3,66.41 294.92,67.14 295.18,65.6 294.07,64.51 295.61,64.28" stroke="none" stroke-width="0" fill="#000" />
<polygon points="300.25,62.88 300.94,64.28 302.48,64.51 301.37,65.6 301.63,67.14 300.25,66.41 298.87,67.14 299.13,65.6 298.02,64.51 299.56,64.28" stroke="none" stroke-width="0" fill="#000" />
<polygon points="309.52,43.09 310.22,44.48 311.76,44.71 310.64,45.8 310.91,47.34 309.52,46.61 308.14,47.34 308.41,45.8 307.29,44.71 308.83,44.48" stroke="none" stroke-width="0" fill="#ff2a00" />
<polygon points="313.47,43.09 314.17,44.48 315.71,44.71 314.59,45.8 314.86,47.34 313.47,46.61 312.09,47.34 312.36,45.8 311.24,44.71 312.78,44.48" stroke="none" stroke-width="0" fill="#ff2a00" />
<polygon points="307.85,49.18 308.54,50.58 310.08,50.81 308.97,51.9 309.23,53.44 307.85,52.71 306.47,53.44 306.73,51.9 305.62,50.81 307.16,50.58" stroke="none" stroke-width="0" fill="#000" />
<polygon points="311.8,49.18 312.49,50.58 314.03,50.81 312.92,51.9 313.18,53.44 311.8,52.71 310.42,53.44 310.68,51.9 309.57,50.81 311.11,50.58" stroke="none" stroke-width="0" fill="#000" />
<polygon points="315.75,49.18 316.44,50.58 317.98,50.81 316.87,51.9 317.13,53.44 315.75,52.71 314.37,53.44 314.63,51.9 313.52,50.81 315.06,50.58" stroke="none" stroke-width="0" fill="#000" />
<polygon points="354.62,29.28 355.32,30.68 356.86,30.91 355.74,32 356.01,33.54 354.62,32.81 353.24,33.54 353.51,32 352.39,30.91 353.93,30.68" stroke="none" stroke-width="0" fill="#ff2a00" />
<polygon points="358.57,29.28 359.27,30.68 360.81,30.91 359.69,32 359.96,33.54 358.57,32.81 357.19,33.54 357.46,32 356.34,30.91 357.88,30.68" stroke="none" stroke-width="0" fill="#ff2a00" />
<polygon points="352.65,34.88 353.34,36.28 354.88,36.51 353.77,37.6 354.03,39.14 352.65,38.41 351.27,39.14 351.53,37.6 350.42,36.51 351.96,36.28" stroke="none" stroke-width="0" fill="#000" />
<polygon points="356.6,34.88 357.29,36.28 358.83,36.51 357.72,37.6 357.98,39.14 356.6,38.41 355.22,39.14 355.48,37.6 354.37,36.51 355.91,36.28" stroke="none" stroke-width="0" fill="#000" />
<polygon points="360.55,34.88 361.24,36.28 362.78,36.51 361.67,37.6 361.93,39.14 360.55,38.41 359.17,39.14 359.43,37.6 358.32,36.51 359.86,36.28" stroke="none" stroke-width="0" fill="#000" />
<text x="436.4" y="41.89" font-size="7.0" font-weight="normal" text-anchor="middle" fill="#ff2a00" >ns</text>
<polygon points="432.45,43.88 433.14,45.28 434.68,45.51 433.57,46.6 433.83,48.14 432.45,47.41 431.07,48.14 431.33,46.6 430.22,45.51 431.76,45.28" stroke="none" stroke-width="0" fill="#000" />
<polygon points="436.4,43.88 437.09,45.28 438.63,45.51 437.52,46.6 437.78,48.14 436.4,47.41 435.02,48.14 435.28,46.6 434.17,45.51 435.71,45.28" stroke="none" stroke-width="0" fill="#000" />
<polygon points="440.35,43.88 441.04,45.28 442.58,45.51 441.47,46.6 441.73,48.14 440.35,47.41 438.97,48.14 439.23,46.6 438.12,45.51 439.66,45.28" stroke="none" stroke-width="0" fill="#000" />
<polygon points="285.52,116.09 286.22,117.48 287.76,117.71 286.64,118.8 286.91,120.34 285.52,119.61 284.14,120.34 284.41,118.8 283.29,117.71 284.83,117.48" stroke="none" stroke-width="0" fill="#000" />
<polygon points="289.47,116.09 290.17,117.48 291.71,117.71 290.59,118.8 290.86,120.34 289.47,119.61 288.09,120.34 288.36,118.8 287.24,117.71 288.78,117.48" stroke="none" stroke-width="0" fill="#000" />
<polygon points="301.65,88.98 302.34,90.38 303.88,90.61 302.77,91.7 303.03,93.24 301.65,92.51 300.27,93.24 300.53,91.7 299.42,90.61 300.96,90.38" stroke="none" stroke-width="0" fill="#000" />
<polygon points="305.6,88.98 306.29,90.38 307.83,90.61 306.72,91.7 306.98,93.24 305.6,92.51 304.22,93.24 304.48,91.7 303.37,90.61 304.91,90.38" stroke="none" stroke-width="0" fill="#000" />
<polygon points="309.55,88.98 310.24,90.38 311.78,90.61 310.67,91.7 310.93,93.24 309.55,92.51 308.17,93.24 308.43,91.7 307.32,90.61 308.86,90.38" stroke="none" stroke-width="0" fill="#000" />
<polygon points="307.75,71.09 308.44,72.48 309.98,72.71 308.87,73.8 309.13,75.34 307.75,74.61 306.37,75.34 306.63,73.8 305.52,72.71 307.06,72.48" stroke="none" stroke-width="0" fill="#000" />
<polygon points="311.7,71.09 312.39,72.48 313.93,72.71 312.82,73.8 313.08,75.34 311.7,74.61 310.32,75.34 310.58,73.8 309.47,72.71 311.01,72.48" stroke="none" stroke-width="0" fill="#000" />
<polygon points="315.65,71.09 316.34,72.48 317.88,72.71 316.77,73.8 317.03,75.34 315.65,74.61 314.27,75.34 314.53,73.8 313.42,72.71 314.96,72.48" stroke="none" stroke-width="0" fill="#000" />
<polygon points="354.62,73.89 355.32,75.28 356.86,75.51 355.74,76.6 356.01,78.14 354.62,77.41 353.24,78.14 353.51,76.6 352.39,75.51 353.93,75.28" stroke="none" stroke-width="0" fill="#000" />
<polygon points="358.57,73.89 359.27,75.28 360.81,75.51 359.69,76.6 359.96,78.14 358.57,77.41 357.19,78.14 357.46,76.6 356.34,75.51 357.88,75.28" stroke="none" stroke-width="0" fill="#000" />
<polygon points="434.42,76.59 435.12,77.98 436.66,78.21 435.54,79.3 435.81,80.84 434.42,80.11 433.04,80.84 433.31,79.3 432.19,78.21 433.73,77.98" stroke="none" stroke-width="0" fill="#000" />
<polygon points="438.37,76.59 439.07,77.98 440.61,78.21 439.49,79.3 439.76,80.84 438.37,80.11 436.99,80.84 437.26,79.3 436.14,78.21 437.68,77.98" stroke="none" stroke-width="0" fill="#000" />
<polyline points="444.6,57.1 449,57.1 449,90.1 444.6,90.1" stroke="#222" stroke-width="1.3" fill="none" />
<line x1="450" y1="73.4" x2="454.4" y2="73.4" stroke="#222" stroke-width="1.2" />
<line x1="452.2" y1="71.2" x2="452.2" y2="75.6" stroke="#222" stroke-width="1.2" />
<text x="449.6" y="15.6" font-size="21.5" font-weight="bold" text-anchor="start" fill="#222" >C</text>
<line x1="500.4" y1="12.05" x2="500.4" y2="189.55" stroke="#000" stroke-width="1.6" />
<line x1="493.2" y1="12.8" x2="500.4" y2="12.8" stroke="#000" stroke-width="1.6" />
<text x="486.2" y="18.1" font-size="11.4" font-weight="bold" text-anchor="end" fill="#000" >10</text>
<text x="486.5" y="13" font-size="8.4" font-weight="bold" text-anchor="start" fill="#000" >5</text>
<line x1="493.2" y1="56.8" x2="500.4" y2="56.8" stroke="#000" stroke-width="1.6" />
<text x="486.2" y="62.1" font-size="11.4" font-weight="bold" text-anchor="end" fill="#000" >10</text>
<text x="486.5" y="57" font-size="8.4" font-weight="bold" text-anchor="start" fill="#000" >4</text>
<line x1="493.2" y1="100.8" x2="500.4" y2="100.8" stroke="#000" stroke-width="1.6" />
<text x="486.2" y="106.1" font-size="11.4" font-weight="bold" text-anchor="end" fill="#000" >10</text>
<text x="486.5" y="101" font-size="8.4" font-weight="bold" text-anchor="start" fill="#000" >3</text>
<line x1="493.2" y1="144.8" x2="500.4" y2="144.8" stroke="#000" stroke-width="1.6" />
<text x="486.2" y="150.1" font-size="11.4" font-weight="bold" text-anchor="end" fill="#000" >10</text>
<text x="486.5" y="145" font-size="8.4" font-weight="bold" text-anchor="start" fill="#000" >2</text>
<line x1="493.2" y1="188.8" x2="500.4" y2="188.8" stroke="#000" stroke-width="1.6" />
<text x="486.2" y="194.1" font-size="11.4" font-weight="bold" text-anchor="end" fill="#000" >10</text>
<text x="486.5" y="189" font-size="8.4" font-weight="bold" text-anchor="start" fill="#000" >1</text>
<line x1="493.2" y1="188.8" x2="676.6" y2="188.8" stroke="#000" stroke-width="1.6" />
<line x1="500.4" y1="188.8" x2="500.4" y2="195.6" stroke="#000" stroke-width="1.6" />
<text x="500.4" y="208" font-size="11.4" font-weight="bold" text-anchor="middle" fill="#000" >0</text>
<line x1="544.25" y1="188.8" x2="544.25" y2="195.6" stroke="#000" stroke-width="1.6" />
<text x="544.25" y="208" font-size="11.4" font-weight="bold" text-anchor="middle" fill="#000" >50</text>
<line x1="588.1" y1="188.8" x2="588.1" y2="195.6" stroke="#000" stroke-width="1.6" />
<text x="588.1" y="208" font-size="11.4" font-weight="bold" text-anchor="middle" fill="#000" >100</text>
<line x1="631.95" y1="188.8" x2="631.95" y2="195.6" stroke="#000" stroke-width="1.6" />
<text x="631.95" y="208" font-size="11.4" font-weight="bold" text-anchor="middle" fill="#000" >150</text>
<line x1="675.8" y1="188.8" x2="675.8" y2="195.6" stroke="#000" stroke-width="1.6" />
<text x="675.8" y="208" font-size="11.4" font-weight="bold" text-anchor="middle" fill="#000" >200</text>
<text x="588.4" y="225.3" font-size="10.6" font-weight="bold" text-anchor="middle" fill="#000" >Time (Day)</text>
<rect x="500.4" y="12.8" width="36.8" height="19.2" stroke="#000" stroke-width="1.6" fill="none"/>
<text x="518.8" y="26" font-size="10.6" font-weight="bold" text-anchor="middle" fill="#000" >IgG2c</text>
<text transform="translate(468.8,101) rotate(-90)" font-size="10.6" font-weight="bold" text-anchor="middle" fill="#000">Anti-VZV gE Titer</text>
<polyline points="500.4,158.4 512.6,158.4 525,158.4 537.3,158.4 582,158.4 661.8,158.4" stroke="#000" stroke-width="1.5" fill="none" stroke-dasharray="6.5,1.55" stroke-dashoffset="1.6" stroke-linejoin="round"/>
<line x1="502.15" y1="158.4" x2="674.9" y2="158.4" stroke="#000" stroke-width="1.3" stroke-dasharray="1.3,1.75"/>
<polyline points="500.4,158.4 512.6,158.4 525,158.4 537.3,158.4 582,158.4 661.8,158.4" stroke="#000" stroke-width="1.6" fill="none"  stroke-linejoin="round"/>
<circle cx="512.6" cy="158.4" r="3.9" stroke="#000" stroke-width="0" fill="#000"/>
<circle cx="525" cy="158.4" r="3.9" stroke="#000" stroke-width="0" fill="#000"/>
<circle cx="537.3" cy="158.4" r="3.9" stroke="#000" stroke-width="0" fill="#000"/>
<circle cx="582" cy="158.4" r="3.9" stroke="#000" stroke-width="0" fill="#000"/>
<circle cx="661.8" cy="158.4" r="3.9" stroke="#000" stroke-width="0" fill="#000"/>
<polyline points="500.4,158.4 512.6,158.4 525,137.7 537.3,129.2 582,119.1 661.8,112.3" stroke="#ff2a00" stroke-width="1.7" fill="none" stroke-dasharray="6.5,1.55" stroke-dashoffset="1.6" stroke-linejoin="round"/>
<line x1="525" y1="131.1" x2="525" y2="148.2" stroke="#ff2a00" stroke-width="1.6" />
<line x1="521" y1="131.1" x2="529" y2="131.1" stroke="#ff2a00" stroke-width="1.6" />
<line x1="521" y1="148.2" x2="529" y2="148.2" stroke="#ff2a00" stroke-width="1.6" />
<line x1="537.3" y1="124.2" x2="537.3" y2="135.2" stroke="#ff2a00" stroke-width="1.6" />
<line x1="533.3" y1="124.2" x2="541.3" y2="124.2" stroke="#ff2a00" stroke-width="1.6" />
<line x1="533.3" y1="135.2" x2="541.3" y2="135.2" stroke="#ff2a00" stroke-width="1.6" />
<line x1="582" y1="117" x2="582" y2="121.5" stroke="#ff2a00" stroke-width="1.6" />
<line x1="578" y1="117" x2="586" y2="117" stroke="#ff2a00" stroke-width="1.6" />
<line x1="578" y1="121.5" x2="586" y2="121.5" stroke="#ff2a00" stroke-width="1.6" />
<line x1="661.8" y1="100.8" x2="661.8" y2="148.6" stroke="#ff2a00" stroke-width="1.6" />
<line x1="657.8" y1="100.8" x2="665.8" y2="100.8" stroke="#ff2a00" stroke-width="1.6" />
<line x1="657.8" y1="148.6" x2="665.8" y2="148.6" stroke="#ff2a00" stroke-width="1.6" />
<circle cx="512.6" cy="158.4" r="3.2" stroke="#ff2a00" stroke-width="1.5" fill="none"/>
<circle cx="525" cy="137.7" r="3.2" stroke="#ff2a00" stroke-width="1.5" fill="none"/>
<circle cx="537.3" cy="129.2" r="3.2" stroke="#ff2a00" stroke-width="1.5" fill="none"/>
<circle cx="582" cy="119.1" r="3.2" stroke="#ff2a00" stroke-width="1.5" fill="none"/>
<circle cx="661.8" cy="112.3" r="3.2" stroke="#ff2a00" stroke-width="1.5" fill="none"/>
<polyline points="500.4,158.4 512.6,115.8 525,78.8 537.3,66.9 582,92 661.8,98" stroke="#ff2a00" stroke-width="1.8" fill="none"  stroke-linejoin="round"/>
<line x1="512.6" y1="111" x2="512.6" y2="122.6" stroke="#ff2a00" stroke-width="1.6" />
<line x1="508.6" y1="111" x2="516.6" y2="111" stroke="#ff2a00" stroke-width="1.6" />
<line x1="508.6" y1="122.6" x2="516.6" y2="122.6" stroke="#ff2a00" stroke-width="1.6" />
<line x1="525" y1="68.6" x2="525" y2="98.7" stroke="#ff2a00" stroke-width="1.6" />
<line x1="521" y1="68.6" x2="529" y2="68.6" stroke="#ff2a00" stroke-width="1.6" />
<line x1="521" y1="98.7" x2="529" y2="98.7" stroke="#ff2a00" stroke-width="1.6" />
<line x1="537.3" y1="58.4" x2="537.3" y2="84.4" stroke="#ff2a00" stroke-width="1.6" />
<line x1="533.3" y1="58.4" x2="541.3" y2="58.4" stroke="#ff2a00" stroke-width="1.6" />
<line x1="533.3" y1="84.4" x2="541.3" y2="84.4" stroke="#ff2a00" stroke-width="1.6" />
<line x1="582" y1="84.7" x2="582" y2="104.8" stroke="#ff2a00" stroke-width="1.6" />
<line x1="578" y1="84.7" x2="586" y2="84.7" stroke="#ff2a00" stroke-width="1.6" />
<line x1="578" y1="104.8" x2="586" y2="104.8" stroke="#ff2a00" stroke-width="1.6" />
<line x1="661.8" y1="88.8" x2="661.8" y2="115.8" stroke="#ff2a00" stroke-width="1.6" />
<line x1="657.8" y1="88.8" x2="665.8" y2="88.8" stroke="#ff2a00" stroke-width="1.6" />
<line x1="657.8" y1="115.8" x2="665.8" y2="115.8" stroke="#ff2a00" stroke-width="1.6" />
<rect x="509.4" y="112.6" width="6.4" height="6.4" fill="#ff2a00"/>
<rect x="521.8" y="75.6" width="6.4" height="6.4" fill="#ff2a00"/>
<rect x="534.1" y="63.7" width="6.4" height="6.4" fill="#ff2a00"/>
<rect x="578.8" y="88.8" width="6.4" height="6.4" fill="#ff2a00"/>
<rect x="658.6" y="94.8" width="6.4" height="6.4" fill="#ff2a00"/>
<circle cx="500.4" cy="158.4" r="3.9" stroke="#ff2a00" stroke-width="0" fill="#ff2a00"/>
<polygon points="507.22,98.29 507.92,99.68 509.46,99.91 508.34,101 508.61,102.54 507.22,101.81 505.84,102.54 506.11,101 504.99,99.91 506.53,99.68" stroke="none" stroke-width="0" fill="#ff2a00" />
<polygon points="511.17,98.29 511.87,99.68 513.41,99.91 512.29,101 512.56,102.54 511.17,101.81 509.79,102.54 510.06,101 508.94,99.91 510.48,99.68" stroke="none" stroke-width="0" fill="#ff2a00" />
<polygon points="507.22,104.19 507.92,105.58 509.46,105.81 508.34,106.9 508.61,108.44 507.22,107.71 505.84,108.44 506.11,106.9 504.99,105.81 506.53,105.58" stroke="none" stroke-width="0" fill="#000" />
<polygon points="511.17,104.19 511.87,105.58 513.41,105.81 512.29,106.9 512.56,108.44 511.17,107.71 509.79,108.44 510.06,106.9 508.94,105.81 510.48,105.58" stroke="none" stroke-width="0" fill="#000" />
<polygon points="525,56.88 525.69,58.28 527.23,58.51 526.12,59.6 526.38,61.14 525,60.41 523.62,61.14 523.88,59.6 522.77,58.51 524.31,58.28" stroke="none" stroke-width="0" fill="#ff2a00" />
<polygon points="521.05,62.09 521.74,63.48 523.28,63.71 522.17,64.8 522.43,66.34 521.05,65.61 519.67,66.34 519.93,64.8 518.82,63.71 520.36,63.48" stroke="none" stroke-width="0" fill="#000" />
<polygon points="525,62.09 525.69,63.48 527.23,63.71 526.12,64.8 526.38,66.34 525,65.61 523.62,66.34 523.88,64.8 522.77,63.71 524.31,63.48" stroke="none" stroke-width="0" fill="#000" />
<polygon points="528.95,62.09 529.64,63.48 531.18,63.71 530.07,64.8 530.33,66.34 528.95,65.61 527.57,66.34 527.83,64.8 526.72,63.71 528.26,63.48" stroke="none" stroke-width="0" fill="#000" />
<polygon points="535.02,46.48 535.72,47.88 537.26,48.11 536.14,49.2 536.41,50.74 535.02,50.01 533.64,50.74 533.91,49.2 532.79,48.11 534.33,47.88" stroke="none" stroke-width="0" fill="#ff2a00" />
<polygon points="538.98,46.48 539.67,47.88 541.21,48.11 540.09,49.2 540.36,50.74 538.98,50.01 537.59,50.74 537.86,49.2 536.74,48.11 538.28,47.88" stroke="none" stroke-width="0" fill="#ff2a00" />
<polygon points="533.05,52.18 533.74,53.58 535.28,53.81 534.17,54.9 534.43,56.44 533.05,55.71 531.67,56.44 531.93,54.9 530.82,53.81 532.36,53.58" stroke="none" stroke-width="0" fill="#000" />
<polygon points="537,52.18 537.69,53.58 539.23,53.81 538.12,54.9 538.38,56.44 537,55.71 535.62,56.44 535.88,54.9 534.77,53.81 536.31,53.58" stroke="none" stroke-width="0" fill="#000" />
<polygon points="540.95,52.18 541.64,53.58 543.18,53.81 542.07,54.9 542.33,56.44 540.95,55.71 539.57,56.44 539.83,54.9 538.72,53.81 540.26,53.58" stroke="none" stroke-width="0" fill="#000" />
<text x="581.6" y="75.49" font-size="7.0" font-weight="normal" text-anchor="middle" fill="#ff2a00" >ns</text>
<polygon points="579.62,77.79 580.32,79.18 581.86,79.41 580.74,80.5 581.01,82.04 579.62,81.31 578.24,82.04 578.51,80.5 577.39,79.41 578.93,79.18" stroke="none" stroke-width="0" fill="#000" />
<polygon points="583.58,77.79 584.27,79.18 585.81,79.41 584.69,80.5 584.96,82.04 583.58,81.31 582.19,82.04 582.46,80.5 581.34,79.41 582.88,79.18" stroke="none" stroke-width="0" fill="#000" />
<text x="661.7" y="80.89" font-size="7.0" font-weight="normal" text-anchor="middle" fill="#ff2a00" >ns</text>
<polygon points="661.7,82.39 662.39,83.78 663.93,84.01 662.82,85.1 663.08,86.64 661.7,85.91 660.32,86.64 660.58,85.1 659.47,84.01 661.01,83.78" stroke="none" stroke-width="0" fill="#000" />
<text x="511" y="150.49" font-size="7.0" font-weight="normal" text-anchor="middle" fill="#000" >ns</text>
<polygon points="524.9,124.29 525.59,125.68 527.13,125.91 526.02,127 526.28,128.54 524.9,127.81 523.52,128.54 523.78,127 522.67,125.91 524.21,125.68" stroke="none" stroke-width="0" fill="#000" />
<polygon points="537.3,117.29 537.99,118.68 539.53,118.91 538.42,120 538.68,121.54 537.3,120.81 535.92,121.54 536.18,120 535.07,118.91 536.61,118.68" stroke="none" stroke-width="0" fill="#000" />
<text x="581.9" y="113.29" font-size="7.0" font-weight="normal" text-anchor="middle" fill="#000" >ns</text>
<text x="655.8" y="108.59" font-size="7.0" font-weight="normal" text-anchor="middle" fill="#000" >ns</text>
<polyline points="668.5,98 672.6,98 672.6,112.3 668.5,112.3" stroke="#222" stroke-width="1.3" fill="none" />
<line x1="673.9" y1="105" x2="678.3" y2="105" stroke="#222" stroke-width="1.2" />
<line x1="676.1" y1="102.8" x2="676.1" y2="107.2" stroke="#222" stroke-width="1.2" />
<text x="589" y="24.3" font-size="8.6" font-weight="normal" text-anchor="middle" fill="#000" >PVP-057</text>
<text x="636.2" y="24.3" font-size="8.6" font-weight="normal" text-anchor="middle" fill="#000" >VZV gE</text>
<line x1="570" y1="32.8" x2="608.4" y2="32.8" stroke="#ff2a00" stroke-width="1.8" />
<rect x="586" y="29.6" width="6.4" height="6.4" fill="#ff2a00"/>
<line x1="616" y1="32.8" x2="654" y2="32.8" stroke="#000" stroke-width="1.6" />
<rect x="631.7" y="29.7" width="6.2" height="6.2" fill="#000"/>
<line x1="570" y1="45.3" x2="608.4" y2="45.3" stroke="#ff2a00" stroke-width="1.7" stroke-dasharray="5.5,3"/>
<circle cx="589.2" cy="45.3" r="3.2" stroke="#ff2a00" stroke-width="1.5" fill="none"/>
<line x1="616" y1="45.3" x2="654" y2="45.3" stroke="#000" stroke-width="1.5" stroke-dasharray="5.5,3"/>
<circle cx="634.8" cy="45.3" r="3.2" stroke="#000" stroke-width="1.5" fill="none"/>
<text x="660" y="35" font-size="9.5" font-weight="normal" text-anchor="start" fill="#000" >ID</text>
<text x="660" y="47.7" font-size="9.5" font-weight="normal" text-anchor="start" fill="#000" >IM</text>
<text x="0" y="254.5" font-size="21.5" font-weight="bold" text-anchor="start" fill="#222" >D</text>
<line x1="41.2" y1="253.95" x2="41.2" y2="446.35" stroke="#000" stroke-width="1.6" />
<line x1="36" y1="254.7" x2="41.2" y2="254.7" stroke="#000" stroke-width="1.6" />
<text x="30.2" y="259" font-size="9.5" font-weight="bold" text-anchor="end" fill="#000" >10</text>
<text x="30.4" y="255.1" font-size="6.6" font-weight="bold" text-anchor="start" fill="#000" >5</text>
<line x1="36" y1="302.43" x2="41.2" y2="302.43" stroke="#000" stroke-width="1.6" />
<text x="30.2" y="306.73" font-size="9.5" font-weight="bold" text-anchor="end" fill="#000" >10</text>
<text x="30.4" y="302.82" font-size="6.6" font-weight="bold" text-anchor="start" fill="#000" >4</text>
<line x1="36" y1="350.15" x2="41.2" y2="350.15" stroke="#000" stroke-width="1.6" />
<text x="30.2" y="354.45" font-size="9.5" font-weight="bold" text-anchor="end" fill="#000" >10</text>
<text x="30.4" y="350.55" font-size="6.6" font-weight="bold" text-anchor="start" fill="#000" >3</text>
<line x1="36" y1="397.88" x2="41.2" y2="397.88" stroke="#000" stroke-width="1.6" />
<text x="30.2" y="402.18" font-size="9.5" font-weight="bold" text-anchor="end" fill="#000" >10</text>
<text x="30.4" y="398.27" font-size="6.6" font-weight="bold" text-anchor="start" fill="#000" >2</text>
<line x1="36" y1="445.6" x2="41.2" y2="445.6" stroke="#000" stroke-width="1.6" />
<text x="30.2" y="449.9" font-size="9.5" font-weight="bold" text-anchor="end" fill="#000" >10</text>
<text x="30.4" y="446" font-size="6.6" font-weight="bold" text-anchor="start" fill="#000" >1</text>
<line x1="36" y1="445.6" x2="223.3" y2="445.6" stroke="#000" stroke-width="1.6" />
<line x1="55.7" y1="445.6" x2="55.7" y2="450.9" stroke="#000" stroke-width="1.6" />
<line x1="77.63" y1="445.6" x2="77.63" y2="450.9" stroke="#000" stroke-width="1.6" />
<line x1="99.56" y1="445.6" x2="99.56" y2="450.9" stroke="#000" stroke-width="1.6" />
<line x1="121.49" y1="445.6" x2="121.49" y2="450.9" stroke="#000" stroke-width="1.6" />
<line x1="143.42" y1="445.6" x2="143.42" y2="450.9" stroke="#000" stroke-width="1.6" />
<line x1="165.35" y1="445.6" x2="165.35" y2="450.9" stroke="#000" stroke-width="1.6" />
<line x1="187.28" y1="445.6" x2="187.28" y2="450.9" stroke="#000" stroke-width="1.6" />
<line x1="209.21" y1="445.6" x2="209.21" y2="450.9" stroke="#000" stroke-width="1.6" />
<rect x="41.2" y="254.7" width="21.4" height="16.3" stroke="#000" stroke-width="1.6" fill="none"/>
<text x="51.9" y="266.6" font-size="9.9" font-weight="bold" text-anchor="middle" fill="#000" >IgG</text>
<text transform="translate(18.35,349.1) rotate(-90)" font-size="10.1" font-weight="bold" text-anchor="middle" fill="#000">Anti-VZV gE Titer</text>
<text x="9.5" y="462.6" font-size="8.7" font-weight="bold" text-anchor="start" fill="#000" >VZV gE</text>
<line x1="53.7" y1="459.8" x2="57.7" y2="459.8" stroke="#000" stroke-width="1.6" />
<line x1="74.33" y1="459.4" x2="80.93" y2="459.4" stroke="#000" stroke-width="1.6" />
<line x1="77.63" y1="456" x2="77.63" y2="462.8" stroke="#000" stroke-width="1.6" />
<line x1="96.26" y1="459.4" x2="102.86" y2="459.4" stroke="#000" stroke-width="1.6" />
<line x1="99.56" y1="456" x2="99.56" y2="462.8" stroke="#000" stroke-width="1.6" />
<line x1="118.19" y1="459.4" x2="124.79" y2="459.4" stroke="#000" stroke-width="1.6" />
<line x1="121.49" y1="456" x2="121.49" y2="462.8" stroke="#000" stroke-width="1.6" />
<line x1="141.42" y1="459.8" x2="145.42" y2="459.8" stroke="#000" stroke-width="1.6" />
<line x1="162.05" y1="459.4" x2="168.65" y2="459.4" stroke="#000" stroke-width="1.6" />
<line x1="165.35" y1="456" x2="165.35" y2="462.8" stroke="#000" stroke-width="1.6" />
<line x1="183.98" y1="459.4" x2="190.58" y2="459.4" stroke="#000" stroke-width="1.6" />
<line x1="187.28" y1="456" x2="187.28" y2="462.8" stroke="#000" stroke-width="1.6" />
<line x1="205.91" y1="459.4" x2="212.51" y2="459.4" stroke="#000" stroke-width="1.6" />
<line x1="209.21" y1="456" x2="209.21" y2="462.8" stroke="#000" stroke-width="1.6" />
<text x="9.5" y="476" font-size="8.7" font-weight="bold" text-anchor="start" fill="#000" >AS01B</text>
<line x1="53.7" y1="473.2" x2="57.7" y2="473.2" stroke="#000" stroke-width="1.6" />
<line x1="75.63" y1="473.2" x2="79.63" y2="473.2" stroke="#000" stroke-width="1.6" />
<line x1="96.26" y1="472.8" x2="102.86" y2="472.8" stroke="#000" stroke-width="1.6" />
<line x1="99.56" y1="469.4" x2="99.56" y2="476.2" stroke="#000" stroke-width="1.6" />
<line x1="119.49" y1="473.2" x2="123.49" y2="473.2" stroke="#000" stroke-width="1.6" />
<line x1="141.42" y1="473.2" x2="145.42" y2="473.2" stroke="#000" stroke-width="1.6" />
<line x1="163.35" y1="473.2" x2="167.35" y2="473.2" stroke="#000" stroke-width="1.6" />
<line x1="183.98" y1="472.8" x2="190.58" y2="472.8" stroke="#000" stroke-width="1.6" />
<line x1="187.28" y1="469.4" x2="187.28" y2="476.2" stroke="#000" stroke-width="1.6" />
<line x1="207.21" y1="473.2" x2="211.21" y2="473.2" stroke="#000" stroke-width="1.6" />
<text x="9.5" y="489.4" font-size="8.7" font-weight="bold" text-anchor="start" fill="#000" >PVP-057</text>
<line x1="53.7" y1="486.6" x2="57.7" y2="486.6" stroke="#000" stroke-width="1.6" />
<line x1="75.63" y1="486.6" x2="79.63" y2="486.6" stroke="#000" stroke-width="1.6" />
<line x1="97.56" y1="486.6" x2="101.56" y2="486.6" stroke="#000" stroke-width="1.6" />
<line x1="118.19" y1="486.2" x2="124.79" y2="486.2" stroke="#000" stroke-width="1.6" />
<line x1="121.49" y1="482.8" x2="121.49" y2="489.6" stroke="#000" stroke-width="1.6" />
<line x1="141.42" y1="486.6" x2="145.42" y2="486.6" stroke="#000" stroke-width="1.6" />
<line x1="163.35" y1="486.6" x2="167.35" y2="486.6" stroke="#000" stroke-width="1.6" />
<line x1="185.28" y1="486.6" x2="189.28" y2="486.6" stroke="#000" stroke-width="1.6" />
<line x1="205.91" y1="486.2" x2="212.51" y2="486.2" stroke="#000" stroke-width="1.6" />
<line x1="209.21" y1="482.8" x2="209.21" y2="489.6" stroke="#000" stroke-width="1.6" />
<line x1="49.7" y1="498.8" x2="128.3" y2="498.8" stroke="#000" stroke-width="1.6" />
<line x1="137.7" y1="498.8" x2="215.9" y2="498.8" stroke="#000" stroke-width="1.6" />
<text x="88.4" y="509.6" font-size="8.6" font-weight="normal" text-anchor="middle" fill="#000" >IM</text>
<text x="177" y="509.6" font-size="8.6" font-weight="normal" text-anchor="middle" fill="#000" >ID</text>
<circle cx="50.3" cy="412.3" r="2" stroke="#000" stroke-width="1.2" fill="none"/>
<circle cx="52.46" cy="412.3" r="2" stroke="#000" stroke-width="1.2" fill="none"/>
<circle cx="54.62" cy="412.3" r="2" stroke="#000" stroke-width="1.2" fill="none"/>
<circle cx="56.78" cy="412.3" r="2" stroke="#000" stroke-width="1.2" fill="none"/>
<circle cx="58.94" cy="412.3" r="2" stroke="#000" stroke-width="1.2" fill="none"/>
<circle cx="61.1" cy="412.3" r="2" stroke="#000" stroke-width="1.2" fill="none"/>
<line x1="49.5" y1="412.3" x2="61.9" y2="412.3" stroke="#000" stroke-width="1.5" />
<circle cx="72.23" cy="412.3" r="2" stroke="#000" stroke-width="1.2" fill="none"/>
<circle cx="74.39" cy="412.3" r="2" stroke="#000" stroke-width="1.2" fill="none"/>
<circle cx="76.55" cy="412.3" r="2" stroke="#000" stroke-width="1.2" fill="none"/>
<circle cx="78.71" cy="412.3" r="2" stroke="#000" stroke-width="1.2" fill="none"/>
<circle cx="80.87" cy="412.3" r="2" stroke="#000" stroke-width="1.2" fill="none"/>
<circle cx="83.03" cy="412.3" r="2" stroke="#000" stroke-width="1.2" fill="none"/>
<line x1="71.43" y1="412.3" x2="83.83" y2="412.3" stroke="#000" stroke-width="1.5" />
<circle cx="138.02" cy="412.3" r="2" stroke="#000" stroke-width="1.2" fill="none"/>
<circle cx="140.18" cy="412.3" r="2" stroke="#000" stroke-width="1.2" fill="none"/>
<circle cx="142.34" cy="412.3" r="2" stroke="#000" stroke-width="1.2" fill="none"/>
<circle cx="144.5" cy="412.3" r="2" stroke="#000" stroke-width="1.2" fill="none"/>
<circle cx="146.66" cy="412.3" r="2" stroke="#000" stroke-width="1.2" fill="none"/>
<circle cx="148.82" cy="412.3" r="2" stroke="#000" stroke-width="1.2" fill="none"/>
<line x1="137.22" y1="412.3" x2="149.62" y2="412.3" stroke="#000" stroke-width="1.5" />
<circle cx="159.95" cy="412.3" r="2" stroke="#000" stroke-width="1.2" fill="none"/>
<circle cx="162.11" cy="412.3" r="2" stroke="#000" stroke-width="1.2" fill="none"/>
<circle cx="164.27" cy="412.3" r="2" stroke="#000" stroke-width="1.2" fill="none"/>
<circle cx="166.43" cy="412.3" r="2" stroke="#000" stroke-width="1.2" fill="none"/>
<circle cx="168.59" cy="412.3" r="2" stroke="#000" stroke-width="1.2" fill="none"/>
<circle cx="170.75" cy="412.3" r="2" stroke="#000" stroke-width="1.2" fill="none"/>
<line x1="159.15" y1="412.3" x2="171.55" y2="412.3" stroke="#000" stroke-width="1.5" />
<line x1="99.56" y1="330" x2="99.56" y2="343.3" stroke="#2f62ff" stroke-width="1.6" />
<line x1="99.56" y1="410.2" x2="99.56" y2="412.3" stroke="#2f62ff" stroke-width="1.6" />
<line x1="95.46" y1="330" x2="103.66" y2="330" stroke="#2f62ff" stroke-width="1.6" />
<line x1="95.46" y1="412.3" x2="103.66" y2="412.3" stroke="#2f62ff" stroke-width="1.6" />
<rect x="92.86" y="343.3" width="13.4" height="66.9" stroke="#2f62ff" stroke-width="1.7" fill="#f2f5ff"/>
<line x1="92.86" y1="367.3" x2="106.26" y2="367.3" stroke="#2f62ff" stroke-width="1.7" />
<circle cx="99.56" cy="330" r="1.9" stroke="#2f62ff" stroke-width="1.0" fill="none"/>
<circle cx="99.56" cy="348.6" r="1.9" stroke="#2f62ff" stroke-width="1.0" fill="none"/>
<circle cx="99.56" cy="361.5" r="1.9" stroke="#2f62ff" stroke-width="1.0" fill="none"/>
<circle cx="99.56" cy="376.4" r="1.9" stroke="#2f62ff" stroke-width="1.0" fill="none"/>
<circle cx="95.06" cy="412" r="1.9" stroke="#2f62ff" stroke-width="1.0" fill="none"/>
<circle cx="100.06" cy="411.2" r="1.9" stroke="#2f62ff" stroke-width="1.0" fill="none"/>
<circle cx="104.06" cy="410.5" r="1.9" stroke="#2f62ff" stroke-width="1.0" fill="none"/>
<line x1="121.49" y1="318.7" x2="121.49" y2="354.4" stroke="#ff2a00" stroke-width="1.6" />
<line x1="121.49" y1="391.2" x2="121.49" y2="412.5" stroke="#ff2a00" stroke-width="1.6" />
<line x1="117.39" y1="318.7" x2="125.59" y2="318.7" stroke="#ff2a00" stroke-width="1.6" />
<line x1="117.39" y1="412.5" x2="125.59" y2="412.5" stroke="#ff2a00" stroke-width="1.6" />
<rect x="114.79" y="354.4" width="13.4" height="36.8" stroke="#ff2a00" stroke-width="1.7" fill="none"/>
<line x1="114.79" y1="371.1" x2="128.19" y2="371.1" stroke="#ff2a00" stroke-width="1.7" />
<circle cx="121.49" cy="318.7" r="1.9" stroke="#ff2a00" stroke-width="1.0" fill="none"/>
<circle cx="121.49" cy="354.4" r="1.9" stroke="#ff2a00" stroke-width="1.0" fill="none"/>
<circle cx="121.49" cy="362.3" r="1.9" stroke="#ff2a00" stroke-width="1.0" fill="none"/>
<circle cx="121.49" cy="371.1" r="1.9" stroke="#ff2a00" stroke-width="1.0" fill="none"/>
<circle cx="121.49" cy="385.9" r="1.9" stroke="#ff2a00" stroke-width="1.0" fill="none"/>
<circle cx="121.49" cy="391.2" r="1.9" stroke="#ff2a00" stroke-width="1.0" fill="none"/>
<circle cx="121.49" cy="412.5" r="1.9" stroke="#ff2a00" stroke-width="1.0" fill="none"/>
<line x1="187.28" y1="304" x2="187.28" y2="308.5" stroke="#2f62ff" stroke-width="1.6" />
<line x1="187.28" y1="335.3" x2="187.28" y2="355" stroke="#2f62ff" stroke-width="1.6" />
<line x1="183.18" y1="304" x2="191.38" y2="304" stroke="#2f62ff" stroke-width="1.6" />
<line x1="183.18" y1="355" x2="191.38" y2="355" stroke="#2f62ff" stroke-width="1.6" />
<rect x="180.58" y="308.5" width="13.4" height="26.8" stroke="#2f62ff" stroke-width="1.7" fill="#f2f5ff"/>
<line x1="180.58" y1="314.3" x2="193.98" y2="314.3" stroke="#2f62ff" stroke-width="1.7" />
<circle cx="187.28" cy="304" r="1.9" stroke="#2f62ff" stroke-width="1.0" fill="none"/>
<circle cx="187.28" cy="309.8" r="1.9" stroke="#2f62ff" stroke-width="1.0" fill="none"/>
<circle cx="182.78" cy="315" r="1.9" stroke="#2f62ff" stroke-width="1.0" fill="none"/>
<circle cx="191.78" cy="315" r="1.9" stroke="#2f62ff" stroke-width="1.0" fill="none"/>
<circle cx="187.28" cy="332.6" r="1.9" stroke="#2f62ff" stroke-width="1.0" fill="none"/>
<circle cx="187.28" cy="355" r="1.9" stroke="#2f62ff" stroke-width="1.0" fill="none"/>
<line x1="209.21" y1="273.2" x2="209.21" y2="285.8" stroke="#ff2a00" stroke-width="1.6" />
<line x1="209.21" y1="298.6" x2="209.21" y2="308.7" stroke="#ff2a00" stroke-width="1.6" />
<line x1="205.11" y1="273.2" x2="213.31" y2="273.2" stroke="#ff2a00" stroke-width="1.6" />
<line x1="205.11" y1="308.7" x2="213.31" y2="308.7" stroke="#ff2a00" stroke-width="1.6" />
<rect x="202.51" y="285.8" width="13.4" height="12.8" stroke="#ff2a00" stroke-width="1.7" fill="none"/>
<line x1="202.51" y1="295.4" x2="215.91" y2="295.4" stroke="#ff2a00" stroke-width="1.7" />
<circle cx="209.21" cy="273.2" r="1.9" stroke="#ff2a00" stroke-width="1.0" fill="none"/>
<circle cx="209.21" cy="285.8" r="1.9" stroke="#ff2a00" stroke-width="1.0" fill="none"/>
<circle cx="206.21" cy="293.5" r="1.9" stroke="#ff2a00" stroke-width="1.0" fill="none"/>
<circle cx="212.21" cy="295.5" r="1.9" stroke="#ff2a00" stroke-width="1.0" fill="none"/>
<circle cx="209.21" cy="296.5" r="1.9" stroke="#ff2a00" stroke-width="1.0" fill="none"/>
<circle cx="209.21" cy="308.7" r="1.9" stroke="#ff2a00" stroke-width="1.0" fill="none"/>
<polyline points="121.49,303.4 121.49,253.6 209.21,253.6 209.21,260.9" stroke="#111" stroke-width="1.1" fill="none" />
<polygon points="161.2,244.27 161.99,245.88 163.77,246.14 162.48,247.39 162.79,249.15 161.2,248.32 159.61,249.15 159.92,247.39 158.63,246.14 160.41,245.88" stroke="none" stroke-width="0" fill="#111" />
<polygon points="165.8,244.27 166.59,245.88 168.37,246.14 167.08,247.39 167.39,249.15 165.8,248.32 164.21,249.15 164.52,247.39 163.23,246.14 165.01,245.88" stroke="none" stroke-width="0" fill="#111" />
<polygon points="170.4,244.27 171.19,245.88 172.97,246.14 171.68,247.39 171.99,249.15 170.4,248.32 168.81,249.15 169.12,247.39 167.83,246.14 169.61,245.88" stroke="none" stroke-width="0" fill="#111" />
<polyline points="187.28,297.8 187.28,266.5 209.21,266.5 209.21,269.7" stroke="#111" stroke-width="1.1" fill="none" />
<polygon points="196,257.17 196.79,258.78 198.57,259.04 197.28,260.29 197.59,262.05 196,261.22 194.41,262.05 194.72,260.29 193.43,259.04 195.21,258.78" stroke="none" stroke-width="0" fill="#111" />
<polygon points="200.6,257.17 201.39,258.78 203.17,259.04 201.88,260.29 202.19,262.05 200.6,261.22 199.01,262.05 199.32,260.29 198.03,259.04 199.81,258.78" stroke="none" stroke-width="0" fill="#111" />
<polyline points="99.56,325.8 99.56,309.4 121.49,309.4 121.49,313.7" stroke="#111" stroke-width="1.1" fill="none" />
<text x="110.7" y="304.95" font-size="7.6" font-weight="normal" text-anchor="middle" fill="#222" >ns</text>
<text x="225.1" y="254.5" font-size="21.5" font-weight="bold" text-anchor="start" fill="#222" >E</text>
<line x1="270.5" y1="253.85" x2="270.5" y2="446.35" stroke="#000" stroke-width="1.6" />
<line x1="265.3" y1="254.6" x2="270.5" y2="254.6" stroke="#000" stroke-width="1.6" />
<text x="259.5" y="258.9" font-size="9.5" font-weight="bold" text-anchor="end" fill="#000" >10</text>
<text x="259.7" y="255" font-size="6.6" font-weight="bold" text-anchor="start" fill="#000" >5</text>
<line x1="265.3" y1="302.35" x2="270.5" y2="302.35" stroke="#000" stroke-width="1.6" />
<text x="259.5" y="306.65" font-size="9.5" font-weight="bold" text-anchor="end" fill="#000" >10</text>
<text x="259.7" y="302.75" font-size="6.6" font-weight="bold" text-anchor="start" fill="#000" >4</text>
<line x1="265.3" y1="350.1" x2="270.5" y2="350.1" stroke="#000" stroke-width="1.6" />
<text x="259.5" y="354.4" font-size="9.5" font-weight="bold" text-anchor="end" fill="#000" >10</text>
<text x="259.7" y="350.5" font-size="6.6" font-weight="bold" text-anchor="start" fill="#000" >3</text>
<line x1="265.3" y1="397.85" x2="270.5" y2="397.85" stroke="#000" stroke-width="1.6" />
<text x="259.5" y="402.15" font-size="9.5" font-weight="bold" text-anchor="end" fill="#000" >10</text>
<text x="259.7" y="398.25" font-size="6.6" font-weight="bold" text-anchor="start" fill="#000" >2</text>
<line x1="265.3" y1="445.6" x2="270.5" y2="445.6" stroke="#000" stroke-width="1.6" />
<text x="259.5" y="449.9" font-size="9.5" font-weight="bold" text-anchor="end" fill="#000" >10</text>
<text x="259.7" y="446" font-size="6.6" font-weight="bold" text-anchor="start" fill="#000" >1</text>
<line x1="265.3" y1="445.6" x2="452.6" y2="445.6" stroke="#000" stroke-width="1.6" />
<line x1="285" y1="445.6" x2="285" y2="450.9" stroke="#000" stroke-width="1.6" />
<line x1="306.93" y1="445.6" x2="306.93" y2="450.9" stroke="#000" stroke-width="1.6" />
<line x1="328.86" y1="445.6" x2="328.86" y2="450.9" stroke="#000" stroke-width="1.6" />
<line x1="350.79" y1="445.6" x2="350.79" y2="450.9" stroke="#000" stroke-width="1.6" />
<line x1="372.72" y1="445.6" x2="372.72" y2="450.9" stroke="#000" stroke-width="1.6" />
<line x1="394.65" y1="445.6" x2="394.65" y2="450.9" stroke="#000" stroke-width="1.6" />
<line x1="416.58" y1="445.6" x2="416.58" y2="450.9" stroke="#000" stroke-width="1.6" />
<line x1="438.51" y1="445.6" x2="438.51" y2="450.9" stroke="#000" stroke-width="1.6" />
<rect x="270.5" y="254.6" width="25.4" height="16.3" stroke="#000" stroke-width="1.6" fill="none"/>
<text x="283.2" y="266.5" font-size="9.9" font-weight="bold" text-anchor="middle" fill="#000" >IgG1</text>
<text transform="translate(247.65,349.1) rotate(-90)" font-size="10.1" font-weight="bold" text-anchor="middle" fill="#000">Anti-VZV gE Titer</text>
<text x="238.8" y="462.6" font-size="8.7" font-weight="bold" text-anchor="start" fill="#000" >VZV gE</text>
<line x1="283" y1="459.8" x2="287" y2="459.8" stroke="#000" stroke-width="1.6" />
<line x1="303.63" y1="459.4" x2="310.23" y2="459.4" stroke="#000" stroke-width="1.6" />
<line x1="306.93" y1="456" x2="306.93" y2="462.8" stroke="#000" stroke-width="1.6" />
<line x1="325.56" y1="459.4" x2="332.16" y2="459.4" stroke="#000" stroke-width="1.6" />
<line x1="328.86" y1="456" x2="328.86" y2="462.8" stroke="#000" stroke-width="1.6" />
<line x1="347.49" y1="459.4" x2="354.09" y2="459.4" stroke="#000" stroke-width="1.6" />
<line x1="350.79" y1="456" x2="350.79" y2="462.8" stroke="#000" stroke-width="1.6" />
<line x1="370.72" y1="459.8" x2="374.72" y2="459.8" stroke="#000" stroke-width="1.6" />
<line x1="391.35" y1="459.4" x2="397.95" y2="459.4" stroke="#000" stroke-width="1.6" />
<line x1="394.65" y1="456" x2="394.65" y2="462.8" stroke="#000" stroke-width="1.6" />
<line x1="413.28" y1="459.4" x2="419.88" y2="459.4" stroke="#000" stroke-width="1.6" />
<line x1="416.58" y1="456" x2="416.58" y2="462.8" stroke="#000" stroke-width="1.6" />
<line x1="435.21" y1="459.4" x2="441.81" y2="459.4" stroke="#000" stroke-width="1.6" />
<line x1="438.51" y1="456" x2="438.51" y2="462.8" stroke="#000" stroke-width="1.6" />
<text x="238.8" y="476" font-size="8.7" font-weight="bold" text-anchor="start" fill="#000" >AS01B</text>
<line x1="283" y1="473.2" x2="287" y2="473.2" stroke="#000" stroke-width="1.6" />
<line x1="304.93" y1="473.2" x2="308.93" y2="473.2" stroke="#000" stroke-width="1.6" />
<line x1="325.56" y1="472.8" x2="332.16" y2="472.8" stroke="#000" stroke-width="1.6" />
<line x1="328.86" y1="469.4" x2="328.86" y2="476.2" stroke="#000" stroke-width="1.6" />
<line x1="348.79" y1="473.2" x2="352.79" y2="473.2" stroke="#000" stroke-width="1.6" />
<line x1="370.72" y1="473.2" x2="374.72" y2="473.2" stroke="#000" stroke-width="1.6" />
<line x1="392.65" y1="473.2" x2="396.65" y2="473.2" stroke="#000" stroke-width="1.6" />
<line x1="413.28" y1="472.8" x2="419.88" y2="472.8" stroke="#000" stroke-width="1.6" />
<line x1="416.58" y1="469.4" x2="416.58" y2="476.2" stroke="#000" stroke-width="1.6" />
<line x1="436.51" y1="473.2" x2="440.51" y2="473.2" stroke="#000" stroke-width="1.6" />
<text x="238.8" y="489.4" font-size="8.7" font-weight="bold" text-anchor="start" fill="#000" >PVP-057</text>
<line x1="283" y1="486.6" x2="287" y2="486.6" stroke="#000" stroke-width="1.6" />
<line x1="304.93" y1="486.6" x2="308.93" y2="486.6" stroke="#000" stroke-width="1.6" />
<line x1="326.86" y1="486.6" x2="330.86" y2="486.6" stroke="#000" stroke-width="1.6" />
<line x1="347.49" y1="486.2" x2="354.09" y2="486.2" stroke="#000" stroke-width="1.6" />
<line x1="350.79" y1="482.8" x2="350.79" y2="489.6" stroke="#000" stroke-width="1.6" />
<line x1="370.72" y1="486.6" x2="374.72" y2="486.6" stroke="#000" stroke-width="1.6" />
<line x1="392.65" y1="486.6" x2="396.65" y2="486.6" stroke="#000" stroke-width="1.6" />
<line x1="414.58" y1="486.6" x2="418.58" y2="486.6" stroke="#000" stroke-width="1.6" />
<line x1="435.21" y1="486.2" x2="441.81" y2="486.2" stroke="#000" stroke-width="1.6" />
<line x1="438.51" y1="482.8" x2="438.51" y2="489.6" stroke="#000" stroke-width="1.6" />
<line x1="279" y1="498.8" x2="357.6" y2="498.8" stroke="#000" stroke-width="1.6" />
<line x1="367" y1="498.8" x2="445.2" y2="498.8" stroke="#000" stroke-width="1.6" />
<text x="317.7" y="509.6" font-size="8.6" font-weight="normal" text-anchor="middle" fill="#000" >IM</text>
<text x="406.3" y="509.6" font-size="8.6" font-weight="normal" text-anchor="middle" fill="#000" >ID</text>
<circle cx="279.6" cy="412.3" r="2" stroke="#000" stroke-width="1.2" fill="none"/>
<circle cx="281.76" cy="412.3" r="2" stroke="#000" stroke-width="1.2" fill="none"/>
<circle cx="283.92" cy="412.3" r="2" stroke="#000" stroke-width="1.2" fill="none"/>
<circle cx="286.08" cy="412.3" r="2" stroke="#000" stroke-width="1.2" fill="none"/>
<circle cx="288.24" cy="412.3" r="2" stroke="#000" stroke-width="1.2" fill="none"/>
<circle cx="290.4" cy="412.3" r="2" stroke="#000" stroke-width="1.2" fill="none"/>
<line x1="278.8" y1="412.3" x2="291.2" y2="412.3" stroke="#000" stroke-width="1.5" />
<circle cx="301.53" cy="412.3" r="2" stroke="#000" stroke-width="1.2" fill="none"/>
<circle cx="303.69" cy="412.3" r="2" stroke="#000" stroke-width="1.2" fill="none"/>
<circle cx="305.85" cy="412.3" r="2" stroke="#000" stroke-width="1.2" fill="none"/>
<circle cx="308.01" cy="412.3" r="2" stroke="#000" stroke-width="1.2" fill="none"/>
<circle cx="310.17" cy="412.3" r="2" stroke="#000" stroke-width="1.2" fill="none"/>
<circle cx="312.33" cy="412.3" r="2" stroke="#000" stroke-width="1.2" fill="none"/>
<line x1="300.73" y1="412.3" x2="313.13" y2="412.3" stroke="#000" stroke-width="1.5" />
<circle cx="367.32" cy="412.3" r="2" stroke="#000" stroke-width="1.2" fill="none"/>
<circle cx="369.48" cy="412.3" r="2" stroke="#000" stroke-width="1.2" fill="none"/>
<circle cx="371.64" cy="412.3" r="2" stroke="#000" stroke-width="1.2" fill="none"/>
<circle cx="373.8" cy="412.3" r="2" stroke="#000" stroke-width="1.2" fill="none"/>
<circle cx="375.96" cy="412.3" r="2" stroke="#000" stroke-width="1.2" fill="none"/>
<circle cx="378.12" cy="412.3" r="2" stroke="#000" stroke-width="1.2" fill="none"/>
<line x1="366.52" y1="412.3" x2="378.92" y2="412.3" stroke="#000" stroke-width="1.5" />
<circle cx="389.25" cy="412.3" r="2" stroke="#000" stroke-width="1.2" fill="none"/>
<circle cx="391.41" cy="412.3" r="2" stroke="#000" stroke-width="1.2" fill="none"/>
<circle cx="393.57" cy="412.3" r="2" stroke="#000" stroke-width="1.2" fill="none"/>
<circle cx="395.73" cy="412.3" r="2" stroke="#000" stroke-width="1.2" fill="none"/>
<circle cx="397.89" cy="412.3" r="2" stroke="#000" stroke-width="1.2" fill="none"/>
<circle cx="400.05" cy="412.3" r="2" stroke="#000" stroke-width="1.2" fill="none"/>
<line x1="388.45" y1="412.3" x2="400.85" y2="412.3" stroke="#000" stroke-width="1.5" />
<line x1="328.86" y1="329.8" x2="328.86" y2="340.5" stroke="#2f62ff" stroke-width="1.6" />
<line x1="328.86" y1="411.6" x2="328.86" y2="412.3" stroke="#2f62ff" stroke-width="1.6" />
<line x1="324.76" y1="329.8" x2="332.96" y2="329.8" stroke="#2f62ff" stroke-width="1.6" />
<line x1="324.76" y1="412.3" x2="332.96" y2="412.3" stroke="#2f62ff" stroke-width="1.6" />
<rect x="322.16" y="340.5" width="13.4" height="71.1" stroke="#2f62ff" stroke-width="1.7" fill="#f2f5ff"/>
<line x1="322.16" y1="359.9" x2="335.56" y2="359.9" stroke="#2f62ff" stroke-width="1.7" />
<circle cx="328.86" cy="329.8" r="1.9" stroke="#2f62ff" stroke-width="1.0" fill="none"/>
<circle cx="328.86" cy="344.4" r="1.9" stroke="#2f62ff" stroke-width="1.0" fill="none"/>
<circle cx="328.86" cy="351.6" r="1.9" stroke="#2f62ff" stroke-width="1.0" fill="none"/>
<circle cx="328.86" cy="373.9" r="1.9" stroke="#2f62ff" stroke-width="1.0" fill="none"/>
<circle cx="323.86" cy="411.6" r="1.9" stroke="#2f62ff" stroke-width="1.0" fill="none"/>
<circle cx="333.86" cy="411.6" r="1.9" stroke="#2f62ff" stroke-width="1.0" fill="none"/>
<line x1="350.79" y1="315.1" x2="350.79" y2="351.6" stroke="#ff2a00" stroke-width="1.6" />
<line x1="350.79" y1="385.3" x2="350.79" y2="412.3" stroke="#ff2a00" stroke-width="1.6" />
<line x1="346.69" y1="315.1" x2="354.89" y2="315.1" stroke="#ff2a00" stroke-width="1.6" />
<line x1="346.69" y1="412.3" x2="354.89" y2="412.3" stroke="#ff2a00" stroke-width="1.6" />
<rect x="344.09" y="351.6" width="13.4" height="33.7" stroke="#ff2a00" stroke-width="1.7" fill="none"/>
<line x1="344.09" y1="367.2" x2="357.49" y2="367.2" stroke="#ff2a00" stroke-width="1.7" />
<circle cx="350.79" cy="315.1" r="1.9" stroke="#ff2a00" stroke-width="1.0" fill="none"/>
<circle cx="350.79" cy="351.6" r="1.9" stroke="#ff2a00" stroke-width="1.0" fill="none"/>
<circle cx="345.79" cy="364.5" r="1.9" stroke="#ff2a00" stroke-width="1.0" fill="none"/>
<circle cx="355.79" cy="367.5" r="1.9" stroke="#ff2a00" stroke-width="1.0" fill="none"/>
<circle cx="350.79" cy="380.4" r="1.9" stroke="#ff2a00" stroke-width="1.0" fill="none"/>
<circle cx="350.79" cy="385.3" r="1.9" stroke="#ff2a00" stroke-width="1.0" fill="none"/>
<circle cx="350.79" cy="412.3" r="1.9" stroke="#ff2a00" stroke-width="1.0" fill="none"/>
<line x1="416.58" y1="314" x2="416.58" y2="315.8" stroke="#2f62ff" stroke-width="1.6" />
<line x1="416.58" y1="332.1" x2="416.58" y2="379.5" stroke="#2f62ff" stroke-width="1.6" />
<line x1="412.48" y1="314" x2="420.68" y2="314" stroke="#2f62ff" stroke-width="1.6" />
<line x1="412.48" y1="379.5" x2="420.68" y2="379.5" stroke="#2f62ff" stroke-width="1.6" />
<rect x="409.88" y="315.8" width="13.4" height="16.3" stroke="#2f62ff" stroke-width="1.7" fill="#f2f5ff"/>
<line x1="409.88" y1="320.7" x2="423.28" y2="320.7" stroke="#2f62ff" stroke-width="1.7" />
<circle cx="416.58" cy="314" r="1.9" stroke="#2f62ff" stroke-width="1.0" fill="none"/>
<circle cx="421.58" cy="315.4" r="1.9" stroke="#2f62ff" stroke-width="1.0" fill="none"/>
<circle cx="411.08" cy="326.3" r="1.9" stroke="#2f62ff" stroke-width="1.0" fill="none"/>
<circle cx="422.08" cy="326.3" r="1.9" stroke="#2f62ff" stroke-width="1.0" fill="none"/>
<circle cx="416.58" cy="379.5" r="1.9" stroke="#2f62ff" stroke-width="1.0" fill="none"/>
<line x1="438.51" y1="282.6" x2="438.51" y2="287" stroke="#ff2a00" stroke-width="1.6" />
<line x1="438.51" y1="293.5" x2="438.51" y2="308.4" stroke="#ff2a00" stroke-width="1.6" />
<line x1="434.41" y1="282.6" x2="442.61" y2="282.6" stroke="#ff2a00" stroke-width="1.6" />
<line x1="434.41" y1="308.4" x2="442.61" y2="308.4" stroke="#ff2a00" stroke-width="1.6" />
<rect x="431.81" y="287" width="13.4" height="6.5" stroke="#ff2a00" stroke-width="1.7" fill="none"/>
<line x1="431.81" y1="290.3" x2="445.21" y2="290.3" stroke="#ff2a00" stroke-width="1.7" />
<circle cx="433.01" cy="282.1" r="1.9" stroke="#ff2a00" stroke-width="1.0" fill="none"/>
<circle cx="444.51" cy="286" r="1.9" stroke="#ff2a00" stroke-width="1.0" fill="none"/>
<circle cx="438.51" cy="288.5" r="1.9" stroke="#ff2a00" stroke-width="1.0" fill="none"/>
<circle cx="435.51" cy="291.5" r="1.9" stroke="#ff2a00" stroke-width="1.0" fill="none"/>
<circle cx="441.51" cy="291.5" r="1.9" stroke="#ff2a00" stroke-width="1.0" fill="none"/>
<circle cx="438.51" cy="308.4" r="1.9" stroke="#ff2a00" stroke-width="1.0" fill="none"/>
<polyline points="350.79,301.4 350.79,258.3 438.51,258.3 438.51,267.3" stroke="#111" stroke-width="1.1" fill="none" />
<polygon points="389.4,248.87 390.19,250.48 391.97,250.74 390.68,251.99 390.99,253.75 389.4,252.92 387.81,253.75 388.12,251.99 386.83,250.74 388.61,250.48" stroke="none" stroke-width="0" fill="#111" />
<polygon points="394,248.87 394.79,250.48 396.57,250.74 395.28,251.99 395.59,253.75 394,252.92 392.41,253.75 392.72,251.99 391.43,250.74 393.21,250.48" stroke="none" stroke-width="0" fill="#111" />
<polygon points="398.6,248.87 399.39,250.48 401.17,250.74 399.88,251.99 400.19,253.75 398.6,252.92 397.01,253.75 397.32,251.99 396.03,250.74 397.81,250.48" stroke="none" stroke-width="0" fill="#111" />
<polyline points="416.58,309.8 416.58,274.2 438.51,274.2 438.51,278.6" stroke="#111" stroke-width="1.1" fill="none" />
<polygon points="425.2,264.87 425.99,266.48 427.77,266.74 426.48,267.99 426.79,269.75 425.2,268.92 423.61,269.75 423.92,267.99 422.63,266.74 424.41,266.48" stroke="none" stroke-width="0" fill="#111" />
<polygon points="429.8,264.87 430.59,266.48 432.37,266.74 431.08,267.99 431.39,269.75 429.8,268.92 428.21,269.75 428.52,267.99 427.23,266.74 429.01,266.48" stroke="none" stroke-width="0" fill="#111" />
<polyline points="328.86,323.1 328.86,305.5 350.79,305.5 350.79,310.5" stroke="#111" stroke-width="1.1" fill="none" />
<text x="340.4" y="301.45" font-size="7.6" font-weight="normal" text-anchor="middle" fill="#222" >ns</text>
<text x="453.4" y="254.5" font-size="21.5" font-weight="bold" text-anchor="start" fill="#222" >F</text>
<line x1="492.2" y1="254.75" x2="492.2" y2="446.05" stroke="#000" stroke-width="1.6" />
<line x1="487" y1="255.5" x2="492.2" y2="255.5" stroke="#000" stroke-width="1.6" />
<text x="481.2" y="259.8" font-size="9.5" font-weight="bold" text-anchor="end" fill="#000" >10</text>
<text x="481.4" y="255.9" font-size="6.6" font-weight="bold" text-anchor="start" fill="#000" >4</text>
<line x1="487" y1="318.77" x2="492.2" y2="318.77" stroke="#000" stroke-width="1.6" />
<text x="481.2" y="323.07" font-size="9.5" font-weight="bold" text-anchor="end" fill="#000" >10</text>
<text x="481.4" y="319.17" font-size="6.6" font-weight="bold" text-anchor="start" fill="#000" >3</text>
<line x1="487" y1="382.03" x2="492.2" y2="382.03" stroke="#000" stroke-width="1.6" />
<text x="481.2" y="386.33" font-size="9.5" font-weight="bold" text-anchor="end" fill="#000" >10</text>
<text x="481.4" y="382.43" font-size="6.6" font-weight="bold" text-anchor="start" fill="#000" >2</text>
<line x1="487" y1="445.3" x2="492.2" y2="445.3" stroke="#000" stroke-width="1.6" />
<text x="481.2" y="449.6" font-size="9.5" font-weight="bold" text-anchor="end" fill="#000" >10</text>
<text x="481.4" y="445.7" font-size="6.6" font-weight="bold" text-anchor="start" fill="#000" >1</text>
<line x1="487" y1="445.3" x2="674.3" y2="445.3" stroke="#000" stroke-width="1.6" />
<line x1="506.7" y1="445.3" x2="506.7" y2="450.6" stroke="#000" stroke-width="1.6" />
<line x1="528.6" y1="445.3" x2="528.6" y2="450.6" stroke="#000" stroke-width="1.6" />
<line x1="550.5" y1="445.3" x2="550.5" y2="450.6" stroke="#000" stroke-width="1.6" />
<line x1="572.4" y1="445.3" x2="572.4" y2="450.6" stroke="#000" stroke-width="1.6" />
<line x1="594.3" y1="445.3" x2="594.3" y2="450.6" stroke="#000" stroke-width="1.6" />
<line x1="616.2" y1="445.3" x2="616.2" y2="450.6" stroke="#000" stroke-width="1.6" />
<line x1="638.1" y1="445.3" x2="638.1" y2="450.6" stroke="#000" stroke-width="1.6" />
<line x1="660" y1="445.3" x2="660" y2="450.6" stroke="#000" stroke-width="1.6" />
<rect x="492.2" y="255.5" width="30.7" height="16.3" stroke="#000" stroke-width="1.6" fill="none"/>
<text x="507.55" y="267.4" font-size="9.5" font-weight="bold" text-anchor="middle" fill="#000" >IgG2c</text>
<text transform="translate(469.35,349.1) rotate(-90)" font-size="10.1" font-weight="bold" text-anchor="middle" fill="#000">Anti-VZV gE Titer</text>
<text x="460.5" y="462.6" font-size="8.7" font-weight="bold" text-anchor="start" fill="#000" >VZV gE</text>
<line x1="504.7" y1="459.8" x2="508.7" y2="459.8" stroke="#000" stroke-width="1.6" />
<line x1="525.3" y1="459.4" x2="531.9" y2="459.4" stroke="#000" stroke-width="1.6" />
<line x1="528.6" y1="456" x2="528.6" y2="462.8" stroke="#000" stroke-width="1.6" />
<line x1="547.2" y1="459.4" x2="553.8" y2="459.4" stroke="#000" stroke-width="1.6" />
<line x1="550.5" y1="456" x2="550.5" y2="462.8" stroke="#000" stroke-width="1.6" />
<line x1="569.1" y1="459.4" x2="575.7" y2="459.4" stroke="#000" stroke-width="1.6" />
<line x1="572.4" y1="456" x2="572.4" y2="462.8" stroke="#000" stroke-width="1.6" />
<line x1="592.3" y1="459.8" x2="596.3" y2="459.8" stroke="#000" stroke-width="1.6" />
<line x1="612.9" y1="459.4" x2="619.5" y2="459.4" stroke="#000" stroke-width="1.6" />
<line x1="616.2" y1="456" x2="616.2" y2="462.8" stroke="#000" stroke-width="1.6" />
<line x1="634.8" y1="459.4" x2="641.4" y2="459.4" stroke="#000" stroke-width="1.6" />
<line x1="638.1" y1="456" x2="638.1" y2="462.8" stroke="#000" stroke-width="1.6" />
<line x1="656.7" y1="459.4" x2="663.3" y2="459.4" stroke="#000" stroke-width="1.6" />
<line x1="660" y1="456" x2="660" y2="462.8" stroke="#000" stroke-width="1.6" />
<text x="460.5" y="476" font-size="8.7" font-weight="bold" text-anchor="start" fill="#000" >AS01B</text>
<line x1="504.7" y1="473.2" x2="508.7" y2="473.2" stroke="#000" stroke-width="1.6" />
<line x1="526.6" y1="473.2" x2="530.6" y2="473.2" stroke="#000" stroke-width="1.6" />
<line x1="547.2" y1="472.8" x2="553.8" y2="472.8" stroke="#000" stroke-width="1.6" />
<line x1="550.5" y1="469.4" x2="550.5" y2="476.2" stroke="#000" stroke-width="1.6" />
<line x1="570.4" y1="473.2" x2="574.4" y2="473.2" stroke="#000" stroke-width="1.6" />
<line x1="592.3" y1="473.2" x2="596.3" y2="473.2" stroke="#000" stroke-width="1.6" />
<line x1="614.2" y1="473.2" x2="618.2" y2="473.2" stroke="#000" stroke-width="1.6" />
<line x1="634.8" y1="472.8" x2="641.4" y2="472.8" stroke="#000" stroke-width="1.6" />
<line x1="638.1" y1="469.4" x2="638.1" y2="476.2" stroke="#000" stroke-width="1.6" />
<line x1="658" y1="473.2" x2="662" y2="473.2" stroke="#000" stroke-width="1.6" />
<text x="460.5" y="489.4" font-size="8.7" font-weight="bold" text-anchor="start" fill="#000" >PVP-057</text>
<line x1="504.7" y1="486.6" x2="508.7" y2="486.6" stroke="#000" stroke-width="1.6" />
<line x1="526.6" y1="486.6" x2="530.6" y2="486.6" stroke="#000" stroke-width="1.6" />
<line x1="548.5" y1="486.6" x2="552.5" y2="486.6" stroke="#000" stroke-width="1.6" />
<line x1="569.1" y1="486.2" x2="575.7" y2="486.2" stroke="#000" stroke-width="1.6" />
<line x1="572.4" y1="482.8" x2="572.4" y2="489.6" stroke="#000" stroke-width="1.6" />
<line x1="592.3" y1="486.6" x2="596.3" y2="486.6" stroke="#000" stroke-width="1.6" />
<line x1="614.2" y1="486.6" x2="618.2" y2="486.6" stroke="#000" stroke-width="1.6" />
<line x1="636.1" y1="486.6" x2="640.1" y2="486.6" stroke="#000" stroke-width="1.6" />
<line x1="656.7" y1="486.2" x2="663.3" y2="486.2" stroke="#000" stroke-width="1.6" />
<line x1="660" y1="482.8" x2="660" y2="489.6" stroke="#000" stroke-width="1.6" />
<line x1="500.7" y1="498.8" x2="579.3" y2="498.8" stroke="#000" stroke-width="1.6" />
<line x1="588.7" y1="498.8" x2="666.9" y2="498.8" stroke="#000" stroke-width="1.6" />
<text x="539.4" y="509.6" font-size="8.6" font-weight="normal" text-anchor="middle" fill="#000" >IM</text>
<text x="628" y="509.6" font-size="8.6" font-weight="normal" text-anchor="middle" fill="#000" >ID</text>
<circle cx="501.3" cy="401.8" r="2" stroke="#000" stroke-width="1.2" fill="none"/>
<circle cx="503.46" cy="401.8" r="2" stroke="#000" stroke-width="1.2" fill="none"/>
<circle cx="505.62" cy="401.8" r="2" stroke="#000" stroke-width="1.2" fill="none"/>
<circle cx="507.78" cy="401.8" r="2" stroke="#000" stroke-width="1.2" fill="none"/>
<circle cx="509.94" cy="401.8" r="2" stroke="#000" stroke-width="1.2" fill="none"/>
<circle cx="512.1" cy="401.8" r="2" stroke="#000" stroke-width="1.2" fill="none"/>
<line x1="500.5" y1="401.8" x2="512.9" y2="401.8" stroke="#000" stroke-width="1.5" />
<circle cx="523.2" cy="401.8" r="2" stroke="#000" stroke-width="1.2" fill="none"/>
<circle cx="525.36" cy="401.8" r="2" stroke="#000" stroke-width="1.2" fill="none"/>
<circle cx="527.52" cy="401.8" r="2" stroke="#000" stroke-width="1.2" fill="none"/>
<circle cx="529.68" cy="401.8" r="2" stroke="#000" stroke-width="1.2" fill="none"/>
<circle cx="531.84" cy="401.8" r="2" stroke="#000" stroke-width="1.2" fill="none"/>
<circle cx="534" cy="401.8" r="2" stroke="#000" stroke-width="1.2" fill="none"/>
<line x1="522.4" y1="401.8" x2="534.8" y2="401.8" stroke="#000" stroke-width="1.5" />
<circle cx="588.9" cy="401.8" r="2" stroke="#000" stroke-width="1.2" fill="none"/>
<circle cx="591.06" cy="401.8" r="2" stroke="#000" stroke-width="1.2" fill="none"/>
<circle cx="593.22" cy="401.8" r="2" stroke="#000" stroke-width="1.2" fill="none"/>
<circle cx="595.38" cy="401.8" r="2" stroke="#000" stroke-width="1.2" fill="none"/>
<circle cx="597.54" cy="401.8" r="2" stroke="#000" stroke-width="1.2" fill="none"/>
<circle cx="599.7" cy="401.8" r="2" stroke="#000" stroke-width="1.2" fill="none"/>
<line x1="588.1" y1="401.8" x2="600.5" y2="401.8" stroke="#000" stroke-width="1.5" />
<circle cx="610.8" cy="401.8" r="2" stroke="#000" stroke-width="1.2" fill="none"/>
<circle cx="612.96" cy="401.8" r="2" stroke="#000" stroke-width="1.2" fill="none"/>
<circle cx="615.12" cy="401.8" r="2" stroke="#000" stroke-width="1.2" fill="none"/>
<circle cx="617.28" cy="401.8" r="2" stroke="#000" stroke-width="1.2" fill="none"/>
<circle cx="619.44" cy="401.8" r="2" stroke="#000" stroke-width="1.2" fill="none"/>
<circle cx="621.6" cy="401.8" r="2" stroke="#000" stroke-width="1.2" fill="none"/>
<line x1="610" y1="401.8" x2="622.4" y2="401.8" stroke="#000" stroke-width="1.5" />
<circle cx="545.1" cy="401.8" r="2" stroke="#2f62ff" stroke-width="1.2" fill="none"/>
<circle cx="547.26" cy="401.8" r="2" stroke="#2f62ff" stroke-width="1.2" fill="none"/>
<circle cx="549.42" cy="401.8" r="2" stroke="#2f62ff" stroke-width="1.2" fill="none"/>
<circle cx="551.58" cy="401.8" r="2" stroke="#2f62ff" stroke-width="1.2" fill="none"/>
<circle cx="553.74" cy="401.8" r="2" stroke="#2f62ff" stroke-width="1.2" fill="none"/>
<circle cx="555.9" cy="401.8" r="2" stroke="#2f62ff" stroke-width="1.2" fill="none"/>
<line x1="544.3" y1="401.8" x2="556.7" y2="401.8" stroke="#2f62ff" stroke-width="1.5" />
<circle cx="567" cy="401.8" r="2" stroke="#ff2a00" stroke-width="1.2" fill="none"/>
<circle cx="569.16" cy="401.8" r="2" stroke="#ff2a00" stroke-width="1.2" fill="none"/>
<circle cx="571.32" cy="401.8" r="2" stroke="#ff2a00" stroke-width="1.2" fill="none"/>
<circle cx="573.48" cy="401.8" r="2" stroke="#ff2a00" stroke-width="1.2" fill="none"/>
<circle cx="575.64" cy="401.8" r="2" stroke="#ff2a00" stroke-width="1.2" fill="none"/>
<circle cx="577.8" cy="401.8" r="2" stroke="#ff2a00" stroke-width="1.2" fill="none"/>
<line x1="566.2" y1="401.8" x2="578.6" y2="401.8" stroke="#ff2a00" stroke-width="1.5" />
<line x1="638.1" y1="269.6" x2="638.1" y2="279.8" stroke="#2f62ff" stroke-width="1.6" />
<line x1="638.1" y1="340.4" x2="638.1" y2="392.6" stroke="#2f62ff" stroke-width="1.6" />
<line x1="634" y1="269.6" x2="642.2" y2="269.6" stroke="#2f62ff" stroke-width="1.6" />
<line x1="634" y1="392.6" x2="642.2" y2="392.6" stroke="#2f62ff" stroke-width="1.6" />
<rect x="631.4" y="279.8" width="13.4" height="60.6" stroke="#2f62ff" stroke-width="1.7" fill="#f2f5ff"/>
<line x1="631.4" y1="300.6" x2="644.8" y2="300.6" stroke="#2f62ff" stroke-width="1.7" />
<circle cx="638.1" cy="269.6" r="1.9" stroke="#2f62ff" stroke-width="1.0" fill="none"/>
<circle cx="638.1" cy="283" r="1.9" stroke="#2f62ff" stroke-width="1.0" fill="none"/>
<circle cx="638.1" cy="287.4" r="1.9" stroke="#2f62ff" stroke-width="1.0" fill="none"/>
<circle cx="638.1" cy="328.7" r="1.9" stroke="#2f62ff" stroke-width="1.0" fill="none"/>
<circle cx="638.1" cy="334.6" r="1.9" stroke="#2f62ff" stroke-width="1.0" fill="none"/>
<circle cx="638.1" cy="392.6" r="1.9" stroke="#2f62ff" stroke-width="1.0" fill="none"/>
<line x1="660" y1="317.3" x2="660" y2="328.5" stroke="#ff2a00" stroke-width="1.6" />
<line x1="660" y1="380.7" x2="660" y2="401.7" stroke="#ff2a00" stroke-width="1.6" />
<line x1="655.9" y1="317.3" x2="664.1" y2="317.3" stroke="#ff2a00" stroke-width="1.6" />
<line x1="655.9" y1="401.7" x2="664.1" y2="401.7" stroke="#ff2a00" stroke-width="1.6" />
<rect x="653.3" y="328.5" width="13.4" height="52.2" stroke="#ff2a00" stroke-width="1.7" fill="none"/>
<line x1="653.3" y1="349.7" x2="666.7" y2="349.7" stroke="#ff2a00" stroke-width="1.7" />
<circle cx="660" cy="317.3" r="1.9" stroke="#ff2a00" stroke-width="1.0" fill="none"/>
<circle cx="655" cy="327.6" r="1.9" stroke="#ff2a00" stroke-width="1.0" fill="none"/>
<circle cx="665" cy="327.6" r="1.9" stroke="#ff2a00" stroke-width="1.0" fill="none"/>
<circle cx="660" cy="349.7" r="1.9" stroke="#ff2a00" stroke-width="1.0" fill="none"/>
<circle cx="660" cy="356.6" r="1.9" stroke="#ff2a00" stroke-width="1.0" fill="none"/>
<circle cx="660" cy="381.8" r="1.9" stroke="#ff2a00" stroke-width="1.0" fill="none"/>
<circle cx="660" cy="401.7" r="1.9" stroke="#ff2a00" stroke-width="1.0" fill="none"/>
<polyline points="572.4,392.1 572.4,248.4 660,248.4 660,256.6" stroke="#111" stroke-width="1.1" fill="none" />
<polygon points="613.7,239.67 614.49,241.28 616.27,241.54 614.98,242.79 615.29,244.55 613.7,243.72 612.11,244.55 612.42,242.79 611.13,241.54 612.91,241.28" stroke="none" stroke-width="0" fill="#111" />
<polygon points="618.3,239.67 619.09,241.28 620.87,241.54 619.58,242.79 619.89,244.55 618.3,243.72 616.71,244.55 617.02,242.79 615.73,241.54 617.51,241.28" stroke="none" stroke-width="0" fill="#111" />
<polyline points="638.1,265.3 638.1,261.6 660,261.6 660,312.9" stroke="#111" stroke-width="1.1" fill="none" />
<text x="648.9" y="257.55" font-size="7.6" font-weight="normal" text-anchor="middle" fill="#222" >ns</text>
<text x="0.2" y="536" font-size="21.5" font-weight="bold" text-anchor="start" fill="#222" >G</text>
<line x1="174.3" y1="650.1" x2="196.99" y2="663.2" stroke="#808080" stroke-width="1.4" stroke-dasharray="4.8,3.53"/>
<line x1="196.99" y1="663.2" x2="196.99" y2="689.4" stroke="#808080" stroke-width="1.4" stroke-dasharray="4.8,3.53"/>
<line x1="196.99" y1="689.4" x2="174.3" y2="702.5" stroke="#808080" stroke-width="1.4" stroke-dasharray="4.8,3.53"/>
<line x1="174.3" y1="702.5" x2="151.61" y2="689.4" stroke="#808080" stroke-width="1.4" stroke-dasharray="4.8,3.53"/>
<line x1="151.61" y1="689.4" x2="151.61" y2="663.2" stroke="#808080" stroke-width="1.4" stroke-dasharray="4.8,3.53"/>
<line x1="151.61" y1="663.2" x2="174.3" y2="650.1" stroke="#808080" stroke-width="1.4" stroke-dasharray="4.8,3.53"/>
<line x1="174.3" y1="623.9" x2="219.68" y2="650.1" stroke="#808080" stroke-width="1.4" stroke-dasharray="4.8,3.53"/>
<line x1="219.68" y1="650.1" x2="219.68" y2="702.5" stroke="#808080" stroke-width="1.4" stroke-dasharray="4.8,3.53"/>
<line x1="219.68" y1="702.5" x2="174.3" y2="728.7" stroke="#808080" stroke-width="1.4" stroke-dasharray="4.8,3.53"/>
<line x1="174.3" y1="728.7" x2="128.92" y2="702.5" stroke="#808080" stroke-width="1.4" stroke-dasharray="4.8,3.53"/>
<line x1="128.92" y1="702.5" x2="128.92" y2="650.1" stroke="#808080" stroke-width="1.4" stroke-dasharray="4.8,3.53"/>
<line x1="128.92" y1="650.1" x2="174.3" y2="623.9" stroke="#808080" stroke-width="1.4" stroke-dasharray="4.8,3.53"/>
<line x1="174.3" y1="597.7" x2="242.37" y2="637" stroke="#808080" stroke-width="1.4" stroke-dasharray="4.8,3.53"/>
<line x1="242.37" y1="637" x2="242.37" y2="715.6" stroke="#808080" stroke-width="1.4" stroke-dasharray="4.8,3.53"/>
<line x1="242.37" y1="715.6" x2="174.3" y2="754.9" stroke="#808080" stroke-width="1.4" stroke-dasharray="4.8,3.53"/>
<line x1="174.3" y1="754.9" x2="106.23" y2="715.6" stroke="#808080" stroke-width="1.4" stroke-dasharray="4.8,3.53"/>
<line x1="106.23" y1="715.6" x2="106.23" y2="637" stroke="#808080" stroke-width="1.4" stroke-dasharray="4.8,3.53"/>
<line x1="106.23" y1="637" x2="174.3" y2="597.7" stroke="#808080" stroke-width="1.4" stroke-dasharray="4.8,3.53"/>
<line x1="174.3" y1="571.5" x2="265.06" y2="623.9" stroke="#808080" stroke-width="1.4" stroke-dasharray="4.8,3.53"/>
<line x1="265.06" y1="623.9" x2="265.06" y2="728.7" stroke="#808080" stroke-width="1.4" stroke-dasharray="4.8,3.53"/>
<line x1="265.06" y1="728.7" x2="174.3" y2="781.1" stroke="#808080" stroke-width="1.4" stroke-dasharray="4.8,3.53"/>
<line x1="174.3" y1="781.1" x2="83.54" y2="728.7" stroke="#808080" stroke-width="1.4" stroke-dasharray="4.8,3.53"/>
<line x1="83.54" y1="728.7" x2="83.54" y2="623.9" stroke="#808080" stroke-width="1.4" stroke-dasharray="4.8,3.53"/>
<line x1="83.54" y1="623.9" x2="174.3" y2="571.5" stroke="#808080" stroke-width="1.4" stroke-dasharray="4.8,3.53"/>
<line x1="174.3" y1="545.3" x2="287.75" y2="610.8" stroke="#808080" stroke-width="1.4" stroke-dasharray="4.8,3.53"/>
<line x1="287.75" y1="610.8" x2="287.75" y2="741.8" stroke="#808080" stroke-width="1.4" stroke-dasharray="4.8,3.53"/>
<line x1="287.75" y1="741.8" x2="174.3" y2="807.3" stroke="#808080" stroke-width="1.4" stroke-dasharray="4.8,3.53"/>
<line x1="174.3" y1="807.3" x2="60.85" y2="741.8" stroke="#808080" stroke-width="1.4" stroke-dasharray="4.8,3.53"/>
<line x1="60.85" y1="741.8" x2="60.85" y2="610.8" stroke="#808080" stroke-width="1.4" stroke-dasharray="4.8,3.53"/>
<line x1="60.85" y1="610.8" x2="174.3" y2="545.3" stroke="#808080" stroke-width="1.4" stroke-dasharray="4.8,3.53"/>
<text x="166.5" y="679.14" font-size="7.9" font-weight="bold" text-anchor="end" fill="#000" >1</text>
<text x="166.5" y="652.94" font-size="7.9" font-weight="bold" text-anchor="end" fill="#000" >10</text>
<text x="166.5" y="626.74" font-size="7.9" font-weight="bold" text-anchor="end" fill="#000" >100</text>
<text x="166.5" y="600.54" font-size="7.9" font-weight="bold" text-anchor="end" fill="#000" >1000</text>
<text x="166.5" y="574.34" font-size="7.9" font-weight="bold" text-anchor="end" fill="#000" >10000</text>
<text x="166.5" y="548.14" font-size="7.9" font-weight="bold" text-anchor="end" fill="#000" >100000</text>
<polygon points="174.3,631.7 212.92,654 212.92,698.6 174.3,720.9 135.68,698.6 135.68,654" stroke="#ffc000" stroke-width="2.0" fill="none" stroke-linejoin="miter"/>
<polygon points="174.3,600.6 241.33,637.6 212.92,698.6 174.3,773.5 93.93,722.7 97.83,632.15" stroke="#4a7ec2" stroke-width="2.0" fill="none" stroke-linejoin="miter"/>
<polygon points="174.3,598 243.41,636.4 212.92,698.6 174.3,788 77.56,732.15 113.59,641.25" stroke="#ff0000" stroke-width="2.2" fill="none" stroke-linejoin="miter"/>
<text x="174.3" y="537.8" font-size="10.2" font-weight="bold" text-anchor="middle" fill="#000" >IM IgG</text>
<text x="292.7" y="612.2" font-size="10.2" font-weight="bold" text-anchor="start" fill="#000" >IM IgG1</text>
<text x="293.2" y="748.3" font-size="10.2" font-weight="bold" text-anchor="start" fill="#000" >IM IgG2c</text>
<text x="174.3" y="822.6" font-size="10.2" font-weight="bold" text-anchor="middle" fill="#000" >ID IgG</text>
<text x="55.2" y="748.3" font-size="10.2" font-weight="bold" text-anchor="end" fill="#000" >ID IgG1</text>
<text x="56" y="612.2" font-size="10.2" font-weight="bold" text-anchor="end" fill="#000" >ID IgG2c</text>
<text transform="translate(99.1,549.7) rotate(-30)" font-size="12.6" font-weight="bold" text-anchor="middle" fill="#222">Anti-VZV gE Titer</text>
<text x="361.4" y="535.6" font-size="21.5" font-weight="bold" text-anchor="start" fill="#222" >H</text>
<line x1="523.1" y1="656.7" x2="540.68" y2="666.85" stroke="#808080" stroke-width="1.4" stroke-dasharray="4.8,3.53"/>
<line x1="540.68" y1="666.85" x2="540.68" y2="687.15" stroke="#808080" stroke-width="1.4" stroke-dasharray="4.8,3.53"/>
<line x1="540.68" y1="687.15" x2="523.1" y2="697.3" stroke="#808080" stroke-width="1.4" stroke-dasharray="4.8,3.53"/>
<line x1="523.1" y1="697.3" x2="505.52" y2="687.15" stroke="#808080" stroke-width="1.4" stroke-dasharray="4.8,3.53"/>
<line x1="505.52" y1="687.15" x2="505.52" y2="666.85" stroke="#808080" stroke-width="1.4" stroke-dasharray="4.8,3.53"/>
<line x1="505.52" y1="666.85" x2="523.1" y2="656.7" stroke="#808080" stroke-width="1.4" stroke-dasharray="4.8,3.53"/>
<line x1="523.1" y1="636.4" x2="558.26" y2="656.7" stroke="#808080" stroke-width="1.4" stroke-dasharray="4.8,3.53"/>
<line x1="558.26" y1="656.7" x2="558.26" y2="697.3" stroke="#808080" stroke-width="1.4" stroke-dasharray="4.8,3.53"/>
<line x1="558.26" y1="697.3" x2="523.1" y2="717.6" stroke="#808080" stroke-width="1.4" stroke-dasharray="4.8,3.53"/>
<line x1="523.1" y1="717.6" x2="487.94" y2="697.3" stroke="#808080" stroke-width="1.4" stroke-dasharray="4.8,3.53"/>
<line x1="487.94" y1="697.3" x2="487.94" y2="656.7" stroke="#808080" stroke-width="1.4" stroke-dasharray="4.8,3.53"/>
<line x1="487.94" y1="656.7" x2="523.1" y2="636.4" stroke="#808080" stroke-width="1.4" stroke-dasharray="4.8,3.53"/>
<line x1="523.1" y1="616.1" x2="575.84" y2="646.55" stroke="#808080" stroke-width="1.4" stroke-dasharray="4.8,3.53"/>
<line x1="575.84" y1="646.55" x2="575.84" y2="707.45" stroke="#808080" stroke-width="1.4" stroke-dasharray="4.8,3.53"/>
<line x1="575.84" y1="707.45" x2="523.1" y2="737.9" stroke="#808080" stroke-width="1.4" stroke-dasharray="4.8,3.53"/>
<line x1="523.1" y1="737.9" x2="470.36" y2="707.45" stroke="#808080" stroke-width="1.4" stroke-dasharray="4.8,3.53"/>
<line x1="470.36" y1="707.45" x2="470.36" y2="646.55" stroke="#808080" stroke-width="1.4" stroke-dasharray="4.8,3.53"/>
<line x1="470.36" y1="646.55" x2="523.1" y2="616.1" stroke="#808080" stroke-width="1.4" stroke-dasharray="4.8,3.53"/>
<line x1="523.1" y1="595.8" x2="593.42" y2="636.4" stroke="#808080" stroke-width="1.4" stroke-dasharray="4.8,3.53"/>
<line x1="593.42" y1="636.4" x2="593.42" y2="717.6" stroke="#808080" stroke-width="1.4" stroke-dasharray="4.8,3.53"/>
<line x1="593.42" y1="717.6" x2="523.1" y2="758.2" stroke="#808080" stroke-width="1.4" stroke-dasharray="4.8,3.53"/>
<line x1="523.1" y1="758.2" x2="452.78" y2="717.6" stroke="#808080" stroke-width="1.4" stroke-dasharray="4.8,3.53"/>
<line x1="452.78" y1="717.6" x2="452.78" y2="636.4" stroke="#808080" stroke-width="1.4" stroke-dasharray="4.8,3.53"/>
<line x1="452.78" y1="636.4" x2="523.1" y2="595.8" stroke="#808080" stroke-width="1.4" stroke-dasharray="4.8,3.53"/>
<line x1="523.1" y1="575.5" x2="611" y2="626.25" stroke="#808080" stroke-width="1.4" stroke-dasharray="4.8,3.53"/>
<line x1="611" y1="626.25" x2="611" y2="727.75" stroke="#808080" stroke-width="1.4" stroke-dasharray="4.8,3.53"/>
<line x1="611" y1="727.75" x2="523.1" y2="778.5" stroke="#808080" stroke-width="1.4" stroke-dasharray="4.8,3.53"/>
<line x1="523.1" y1="778.5" x2="435.2" y2="727.75" stroke="#808080" stroke-width="1.4" stroke-dasharray="4.8,3.53"/>
<line x1="435.2" y1="727.75" x2="435.2" y2="626.25" stroke="#808080" stroke-width="1.4" stroke-dasharray="4.8,3.53"/>
<line x1="435.2" y1="626.25" x2="523.1" y2="575.5" stroke="#808080" stroke-width="1.4" stroke-dasharray="4.8,3.53"/>
<line x1="523.1" y1="555.2" x2="628.58" y2="616.1" stroke="#808080" stroke-width="1.4" stroke-dasharray="4.8,3.53"/>
<line x1="628.58" y1="616.1" x2="628.58" y2="737.9" stroke="#808080" stroke-width="1.4" stroke-dasharray="4.8,3.53"/>
<line x1="628.58" y1="737.9" x2="523.1" y2="798.8" stroke="#808080" stroke-width="1.4" stroke-dasharray="4.8,3.53"/>
<line x1="523.1" y1="798.8" x2="417.62" y2="737.9" stroke="#808080" stroke-width="1.4" stroke-dasharray="4.8,3.53"/>
<line x1="417.62" y1="737.9" x2="417.62" y2="616.1" stroke="#808080" stroke-width="1.4" stroke-dasharray="4.8,3.53"/>
<line x1="417.62" y1="616.1" x2="523.1" y2="555.2" stroke="#808080" stroke-width="1.4" stroke-dasharray="4.8,3.53"/>
<text x="511" y="680.67" font-size="10.2" font-weight="bold" text-anchor="end" fill="#000" >0</text>
<text x="511" y="660.37" font-size="10.2" font-weight="bold" text-anchor="end" fill="#000" >1</text>
<text x="511" y="640.07" font-size="10.2" font-weight="bold" text-anchor="end" fill="#000" >2</text>
<text x="511" y="619.77" font-size="10.2" font-weight="bold" text-anchor="end" fill="#000" >3</text>
<text x="511" y="599.47" font-size="10.2" font-weight="bold" text-anchor="end" fill="#000" >4</text>
<text x="511" y="579.17" font-size="10.2" font-weight="bold" text-anchor="end" fill="#000" >5</text>
<text x="511" y="558.87" font-size="10.2" font-weight="bold" text-anchor="end" fill="#000" >6</text>
<polygon points="523.1,656.7 540.68,666.85 540.68,687.15 523.1,697.3 505.52,687.15 505.52,666.85" stroke="#4a7ec2" stroke-width="2.3" fill="none" stroke-linejoin="miter"/>
<polygon points="523.1,651.9 545.27,664.2 540.68,687.15 523.1,747.2 433.9,728.5 519.72,675.05" stroke="#ff0000" stroke-width="2.5" fill="none" stroke-linejoin="miter"/>
<text x="523.1" y="547.4" font-size="10.2" font-weight="bold" text-anchor="middle" fill="#000" >IM IgG</text>
<text x="633.7" y="617.6" font-size="10.2" font-weight="bold" text-anchor="start" fill="#000" >IM IgG1</text>
<text x="633.7" y="744.2" font-size="10.2" font-weight="bold" text-anchor="start" fill="#000" >IM IgG2c</text>
<text x="523.1" y="813.5" font-size="10.2" font-weight="bold" text-anchor="middle" fill="#000" >ID IgG</text>
<text x="411.7" y="744.2" font-size="10.2" font-weight="bold" text-anchor="end" fill="#000" >ID IgG1</text>
<text x="412.9" y="617.4" font-size="10.2" font-weight="bold" text-anchor="end" fill="#000" >ID IgG2c</text>
<text transform="translate(451.3,555.0) rotate(-30)" font-size="12.6" font-weight="bold" text-anchor="middle" fill="#222">Fold over AS01B</text>
<line x1="82.8" y1="843.2" x2="107.7" y2="843.2" stroke="#ffc000" stroke-width="2.4" />
<text x="109.3" y="846" font-size="14.4" font-weight="normal" text-anchor="start" fill="#111" >VZV gE Protein</text>
<line x1="238.2" y1="843.1" x2="262.7" y2="843.1" stroke="#4a7ec2" stroke-width="2.4" />
<text x="264.8" y="846" font-size="14.4" font-weight="normal" text-anchor="start" fill="#111" >VZV gE Protein + AS01B</text>
<line x1="455.1" y1="842.8" x2="480.4" y2="842.8" stroke="#ff0000" stroke-width="2.4" />
<text x="481.7" y="846" font-size="14.4" font-weight="normal" text-anchor="start" fill="#111" >VZV gE Protein + PVP-057</text>
</svg>
</body></html>
